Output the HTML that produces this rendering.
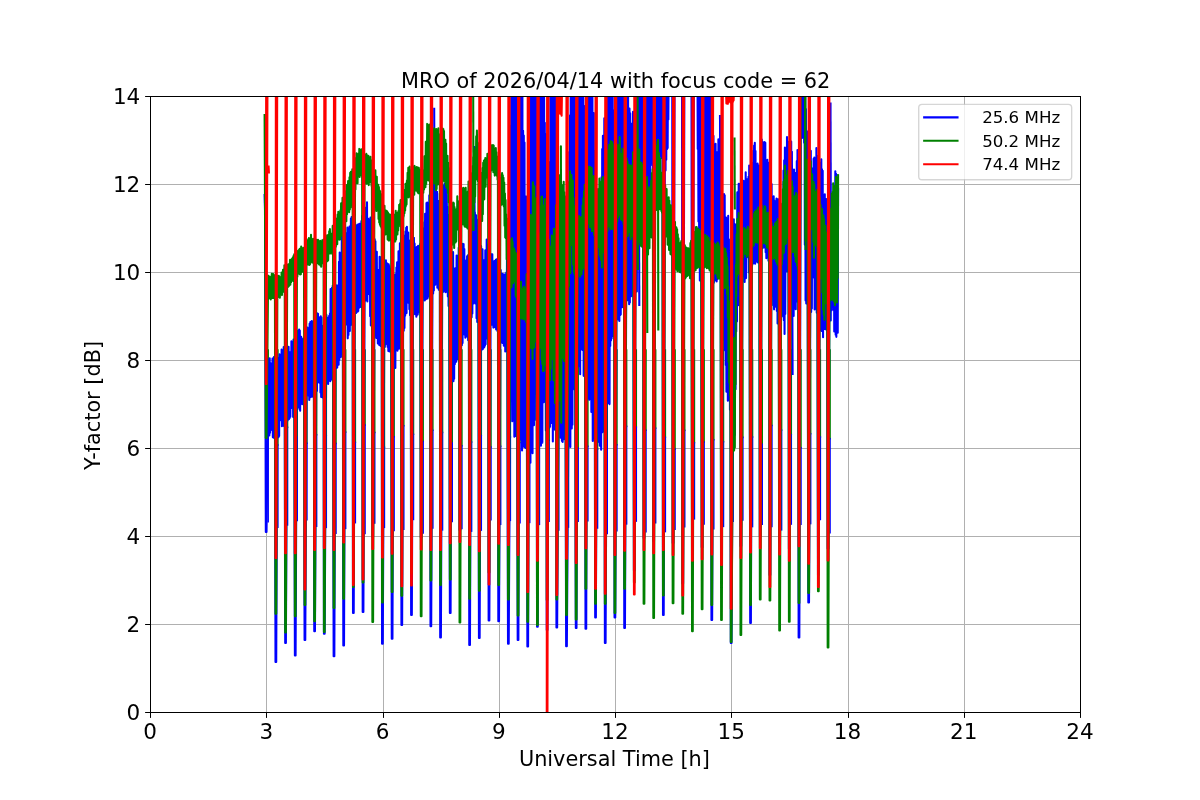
<!DOCTYPE html>
<html><head><meta charset="utf-8"><title>MRO Y-factor</title>
<style>html,body{margin:0;padding:0;background:#fff;}
#fig{position:relative;width:1200px;height:800px;overflow:hidden;background:#fff;}
svg.l{position:absolute;left:0;top:0;display:block;}
text{font-family:"DejaVu Sans","Liberation Sans",sans-serif;}</style></head>
<body><div id="fig">
<svg class="l" width="1200" height="800" viewBox="0 0 1200 800"><rect x="266" y="96" width="1" height="617" fill="#b0b0b0"/><rect x="383" y="96" width="1" height="617" fill="#b0b0b0"/><rect x="499" y="96" width="1" height="617" fill="#b0b0b0"/><rect x="615" y="96" width="1" height="617" fill="#b0b0b0"/><rect x="731" y="96" width="1" height="617" fill="#b0b0b0"/><rect x="848" y="96" width="1" height="617" fill="#b0b0b0"/><rect x="964" y="96" width="1" height="617" fill="#b0b0b0"/><rect x="150" y="624" width="931" height="1" fill="#b0b0b0"/><rect x="150" y="536" width="931" height="1" fill="#b0b0b0"/><rect x="150" y="448" width="931" height="1" fill="#b0b0b0"/><rect x="150" y="360" width="931" height="1" fill="#b0b0b0"/><rect x="150" y="272" width="931" height="1" fill="#b0b0b0"/><rect x="150" y="184" width="931" height="1" fill="#b0b0b0"/></svg>
<svg class="l" width="1200" height="800" viewBox="0 0 864 576" version="1.1">
 
 <defs>
  <style type="text/css">*{stroke-linejoin: round; stroke-linecap: butt}</style>
 </defs>
 <g id="figure_1">
  <g id="patch_1">
   <path d="M 0 576 
L 864 576 
L 864 0 
L 0 0 
L 0 576 
z
" style="fill: none; opacity: 0"/>
  </g>
  <g id="axes_1">
   <g id="patch_2">
    <path d="M 108 512.64 
L 777.6 512.64 
L 777.6 69.12 
L 108 69.12 
L 108 512.64 
z
" style="fill: none; opacity: 0"/>
   </g>
   <g id="matplotlib.axis_1">
    <g id="xtick_1">
     <g id="line2d_1"/>
     <g id="text_1">
      <text style="font-size: 15.5px; font-family: 'DejaVu Sans', 'Bitstream Vera Sans', 'Computer Modern Sans Serif', 'Lucida Grande', 'Verdana', 'Geneva', 'Lucid', 'Arial', 'Helvetica', 'Avant Garde', sans-serif; text-anchor: middle" x="108" y="532.137578" transform="rotate(-0 108 532.14)">0</text>
     </g>
    </g>
    <g id="xtick_2">
     <g id="line2d_2"/>
     <g id="text_2">
      <text style="font-size: 15.5px; font-family: 'DejaVu Sans', 'Bitstream Vera Sans', 'Computer Modern Sans Serif', 'Lucida Grande', 'Verdana', 'Geneva', 'Lucid', 'Arial', 'Helvetica', 'Avant Garde', sans-serif; text-anchor: middle" x="191.7" y="532.137578" transform="rotate(-0 191.7 532.14)">3</text>
     </g>
    </g>
    <g id="xtick_3">
     <g id="line2d_3"/>
     <g id="text_3">
      <text style="font-size: 15.5px; font-family: 'DejaVu Sans', 'Bitstream Vera Sans', 'Computer Modern Sans Serif', 'Lucida Grande', 'Verdana', 'Geneva', 'Lucid', 'Arial', 'Helvetica', 'Avant Garde', sans-serif; text-anchor: middle" x="275.4" y="532.137578" transform="rotate(-0 275.4 532.14)">6</text>
     </g>
    </g>
    <g id="xtick_4">
     <g id="line2d_4"/>
     <g id="text_4">
      <text style="font-size: 15.5px; font-family: 'DejaVu Sans', 'Bitstream Vera Sans', 'Computer Modern Sans Serif', 'Lucida Grande', 'Verdana', 'Geneva', 'Lucid', 'Arial', 'Helvetica', 'Avant Garde', sans-serif; text-anchor: middle" x="359.1" y="532.137578" transform="rotate(-0 359.1 532.14)">9</text>
     </g>
    </g>
    <g id="xtick_5">
     <g id="line2d_5"/>
     <g id="text_5">
      <text style="font-size: 15.5px; font-family: 'DejaVu Sans', 'Bitstream Vera Sans', 'Computer Modern Sans Serif', 'Lucida Grande', 'Verdana', 'Geneva', 'Lucid', 'Arial', 'Helvetica', 'Avant Garde', sans-serif; text-anchor: middle" x="442.8" y="532.137578" transform="rotate(-0 442.8 532.14)">12</text>
     </g>
    </g>
    <g id="xtick_6">
     <g id="line2d_6"/>
     <g id="text_6">
      <text style="font-size: 15.5px; font-family: 'DejaVu Sans', 'Bitstream Vera Sans', 'Computer Modern Sans Serif', 'Lucida Grande', 'Verdana', 'Geneva', 'Lucid', 'Arial', 'Helvetica', 'Avant Garde', sans-serif; text-anchor: middle" x="526.5" y="532.137578" transform="rotate(-0 526.5 532.14)">15</text>
     </g>
    </g>
    <g id="xtick_7">
     <g id="line2d_7"/>
     <g id="text_7">
      <text style="font-size: 15.5px; font-family: 'DejaVu Sans', 'Bitstream Vera Sans', 'Computer Modern Sans Serif', 'Lucida Grande', 'Verdana', 'Geneva', 'Lucid', 'Arial', 'Helvetica', 'Avant Garde', sans-serif; text-anchor: middle" x="610.2" y="532.137578" transform="rotate(-0 610.2 532.14)">18</text>
     </g>
    </g>
    <g id="xtick_8">
     <g id="line2d_8"/>
     <g id="text_8">
      <text style="font-size: 15.5px; font-family: 'DejaVu Sans', 'Bitstream Vera Sans', 'Computer Modern Sans Serif', 'Lucida Grande', 'Verdana', 'Geneva', 'Lucid', 'Arial', 'Helvetica', 'Avant Garde', sans-serif; text-anchor: middle" x="693.9" y="532.137578" transform="rotate(-0 693.9 532.14)">21</text>
     </g>
    </g>
    <g id="xtick_9">
     <g id="line2d_9"/>
     <g id="text_9">
      <text style="font-size: 15.5px; font-family: 'DejaVu Sans', 'Bitstream Vera Sans', 'Computer Modern Sans Serif', 'Lucida Grande', 'Verdana', 'Geneva', 'Lucid', 'Arial', 'Helvetica', 'Avant Garde', sans-serif; text-anchor: middle" x="777.6" y="532.137578" transform="rotate(-0 777.6 532.14)">24</text>
     </g>
    </g>
    <g id="text_10" transform="translate(-0.432 0.000)">
     <text style="font-size: 15px; font-family: 'DejaVu Sans', 'Bitstream Vera Sans', 'Computer Modern Sans Serif', 'Lucida Grande', 'Verdana', 'Geneva', 'Lucid', 'Arial', 'Helvetica', 'Avant Garde', sans-serif; text-anchor: middle" x="442.8" y="551.25875" transform="rotate(-0 442.8 551.26)">Universal Time [h]</text>
    </g>
   </g>
   <g id="matplotlib.axis_2">
    <g id="ytick_1">
     <g id="line2d_10"/>
     <g id="text_11">
      <text style="font-size: 15.5px; font-family: 'DejaVu Sans', 'Bitstream Vera Sans', 'Computer Modern Sans Serif', 'Lucida Grande', 'Verdana', 'Geneva', 'Lucid', 'Arial', 'Helvetica', 'Avant Garde', sans-serif; text-anchor: end" x="101" y="518.528789" transform="rotate(-0 101 518.53)">0</text>
     </g>
    </g>
    <g id="ytick_2">
     <g id="line2d_11"/>
     <g id="text_12">
      <text style="font-size: 15.5px; font-family: 'DejaVu Sans', 'Bitstream Vera Sans', 'Computer Modern Sans Serif', 'Lucida Grande', 'Verdana', 'Geneva', 'Lucid', 'Arial', 'Helvetica', 'Avant Garde', sans-serif; text-anchor: end" x="101" y="455.168789" transform="rotate(-0 101 455.17)">2</text>
     </g>
    </g>
    <g id="ytick_3">
     <g id="line2d_12"/>
     <g id="text_13">
      <text style="font-size: 15.5px; font-family: 'DejaVu Sans', 'Bitstream Vera Sans', 'Computer Modern Sans Serif', 'Lucida Grande', 'Verdana', 'Geneva', 'Lucid', 'Arial', 'Helvetica', 'Avant Garde', sans-serif; text-anchor: end" x="101" y="391.808789" transform="rotate(-0 101 391.81)">4</text>
     </g>
    </g>
    <g id="ytick_4">
     <g id="line2d_13"/>
     <g id="text_14">
      <text style="font-size: 15.5px; font-family: 'DejaVu Sans', 'Bitstream Vera Sans', 'Computer Modern Sans Serif', 'Lucida Grande', 'Verdana', 'Geneva', 'Lucid', 'Arial', 'Helvetica', 'Avant Garde', sans-serif; text-anchor: end" x="101" y="328.448789" transform="rotate(-0 101 328.45)">6</text>
     </g>
    </g>
    <g id="ytick_5">
     <g id="line2d_14"/>
     <g id="text_15">
      <text style="font-size: 15.5px; font-family: 'DejaVu Sans', 'Bitstream Vera Sans', 'Computer Modern Sans Serif', 'Lucida Grande', 'Verdana', 'Geneva', 'Lucid', 'Arial', 'Helvetica', 'Avant Garde', sans-serif; text-anchor: end" x="101" y="265.088789" transform="rotate(-0 101 265.09)">8</text>
     </g>
    </g>
    <g id="ytick_6">
     <g id="line2d_15"/>
     <g id="text_16">
      <text style="font-size: 15.5px; font-family: 'DejaVu Sans', 'Bitstream Vera Sans', 'Computer Modern Sans Serif', 'Lucida Grande', 'Verdana', 'Geneva', 'Lucid', 'Arial', 'Helvetica', 'Avant Garde', sans-serif; text-anchor: end" x="101" y="201.728789" transform="rotate(-0 101 201.73)">10</text>
     </g>
    </g>
    <g id="ytick_7">
     <g id="line2d_16"/>
     <g id="text_17">
      <text style="font-size: 15.5px; font-family: 'DejaVu Sans', 'Bitstream Vera Sans', 'Computer Modern Sans Serif', 'Lucida Grande', 'Verdana', 'Geneva', 'Lucid', 'Arial', 'Helvetica', 'Avant Garde', sans-serif; text-anchor: end" x="101" y="138.368789" transform="rotate(-0 101 138.37)">12</text>
     </g>
    </g>
    <g id="ytick_8">
     <g id="line2d_17"/>
     <g id="text_18">
      <text style="font-size: 15.5px; font-family: 'DejaVu Sans', 'Bitstream Vera Sans', 'Computer Modern Sans Serif', 'Lucida Grande', 'Verdana', 'Geneva', 'Lucid', 'Arial', 'Helvetica', 'Avant Garde', sans-serif; text-anchor: end" x="101" y="75.008789" transform="rotate(-0 101 75.01)">14</text>
     </g>
    </g>
    <g id="text_19" transform="translate(0.504 1.080)">
     <text style="font-size: 15px; font-family: 'DejaVu Sans', 'Bitstream Vera Sans', 'Computer Modern Sans Serif', 'Lucida Grande', 'Verdana', 'Geneva', 'Lucid', 'Arial', 'Helvetica', 'Avant Garde', sans-serif; text-anchor: middle" x="71.756719" y="290.88" transform="rotate(-90 71.76 290.88)">Y-factor [dB]</text>
    </g>
   </g>
   <g id="line2d_18">
    <path d="M 193.08 252 
L 193.08 307.54 
" clip-path="url(#pb26753ab78)" style="fill: none; stroke: #008000; stroke-width: 1.1; stroke-linecap: square"/>
   </g>
   <g id="line2d_19">
    <path d="M 193.08 307.54 
L 193.08 375.69 
" clip-path="url(#pb26753ab78)" style="fill: none; stroke: #0000ff; stroke-width: 1.1; stroke-linecap: square"/>
   </g>
   <g id="line2d_20">
    <path d="M 200.06 252 
L 200.06 320.42 
" clip-path="url(#pb26753ab78)" style="fill: none; stroke: #008000; stroke-width: 1.1; stroke-linecap: square"/>
   </g>
   <g id="line2d_21">
    <path d="M 200.06 320.42 
L 200.06 379.67 
" clip-path="url(#pb26753ab78)" style="fill: none; stroke: #0000ff; stroke-width: 1.1; stroke-linecap: square"/>
   </g>
   <g id="line2d_22">
    <path d="M 207.03 252 
L 207.03 307.69 
" clip-path="url(#pb26753ab78)" style="fill: none; stroke: #008000; stroke-width: 1.1; stroke-linecap: square"/>
   </g>
   <g id="line2d_23">
    <path d="M 207.03 307.69 
L 207.03 377.95 
" clip-path="url(#pb26753ab78)" style="fill: none; stroke: #0000ff; stroke-width: 1.1; stroke-linecap: square"/>
   </g>
   <g id="line2d_24">
    <path d="M 214.01 252 
L 214.01 314.62 
" clip-path="url(#pb26753ab78)" style="fill: none; stroke: #008000; stroke-width: 1.1; stroke-linecap: square"/>
   </g>
   <g id="line2d_25">
    <path d="M 214.01 314.62 
L 214.01 374.80 
" clip-path="url(#pb26753ab78)" style="fill: none; stroke: #0000ff; stroke-width: 1.1; stroke-linecap: square"/>
   </g>
   <g id="line2d_26">
    <path d="M 220.98 252 
L 220.98 319.22 
" clip-path="url(#pb26753ab78)" style="fill: none; stroke: #008000; stroke-width: 1.1; stroke-linecap: square"/>
   </g>
   <g id="line2d_27">
    <path d="M 220.98 319.22 
L 220.98 374.27 
" clip-path="url(#pb26753ab78)" style="fill: none; stroke: #0000ff; stroke-width: 1.1; stroke-linecap: square"/>
   </g>
   <g id="line2d_28">
    <path d="M 227.96 252 
L 227.96 313.04 
" clip-path="url(#pb26753ab78)" style="fill: none; stroke: #008000; stroke-width: 1.1; stroke-linecap: square"/>
   </g>
   <g id="line2d_29">
    <path d="M 227.96 313.04 
L 227.96 378.91 
" clip-path="url(#pb26753ab78)" style="fill: none; stroke: #0000ff; stroke-width: 1.1; stroke-linecap: square"/>
   </g>
   <g id="line2d_30">
    <path d="M 234.93 252 
L 234.93 313.75 
" clip-path="url(#pb26753ab78)" style="fill: none; stroke: #008000; stroke-width: 1.1; stroke-linecap: square"/>
   </g>
   <g id="line2d_31">
    <path d="M 234.93 313.75 
L 234.93 379.72 
" clip-path="url(#pb26753ab78)" style="fill: none; stroke: #0000ff; stroke-width: 1.1; stroke-linecap: square"/>
   </g>
   <g id="line2d_32">
    <path d="M 241.91 252 
L 241.91 319.28 
" clip-path="url(#pb26753ab78)" style="fill: none; stroke: #008000; stroke-width: 1.1; stroke-linecap: square"/>
   </g>
   <g id="line2d_33">
    <path d="M 241.91 319.28 
L 241.91 383.98 
" clip-path="url(#pb26753ab78)" style="fill: none; stroke: #0000ff; stroke-width: 1.1; stroke-linecap: square"/>
   </g>
   <g id="line2d_34">
    <path d="M 248.88 252 
L 248.88 311.12 
" clip-path="url(#pb26753ab78)" style="fill: none; stroke: #008000; stroke-width: 1.1; stroke-linecap: square"/>
   </g>
   <g id="line2d_35">
    <path d="M 248.88 311.12 
L 248.88 380.43 
" clip-path="url(#pb26753ab78)" style="fill: none; stroke: #0000ff; stroke-width: 1.1; stroke-linecap: square"/>
   </g>
   <g id="line2d_36">
    <path d="M 255.86 252 
L 255.86 318.53 
" clip-path="url(#pb26753ab78)" style="fill: none; stroke: #008000; stroke-width: 1.1; stroke-linecap: square"/>
   </g>
   <g id="line2d_37">
    <path d="M 255.86 318.53 
L 255.86 376.33 
" clip-path="url(#pb26753ab78)" style="fill: none; stroke: #0000ff; stroke-width: 1.1; stroke-linecap: square"/>
   </g>
   <g id="line2d_38">
    <path d="M 262.83 252 
L 262.83 306.03 
" clip-path="url(#pb26753ab78)" style="fill: none; stroke: #008000; stroke-width: 1.1; stroke-linecap: square"/>
   </g>
   <g id="line2d_39">
    <path d="M 262.83 306.03 
L 262.83 384.17 
" clip-path="url(#pb26753ab78)" style="fill: none; stroke: #0000ff; stroke-width: 1.1; stroke-linecap: square"/>
   </g>
   <g id="line2d_40">
    <path d="M 269.81 252 
L 269.81 311.37 
" clip-path="url(#pb26753ab78)" style="fill: none; stroke: #008000; stroke-width: 1.1; stroke-linecap: square"/>
   </g>
   <g id="line2d_41">
    <path d="M 269.81 311.37 
L 269.81 376.58 
" clip-path="url(#pb26753ab78)" style="fill: none; stroke: #0000ff; stroke-width: 1.1; stroke-linecap: square"/>
   </g>
   <g id="line2d_42">
    <path d="M 276.78 252 
L 276.78 322.05 
" clip-path="url(#pb26753ab78)" style="fill: none; stroke: #008000; stroke-width: 1.1; stroke-linecap: square"/>
   </g>
   <g id="line2d_43">
    <path d="M 276.78 322.05 
L 276.78 379.70 
" clip-path="url(#pb26753ab78)" style="fill: none; stroke: #0000ff; stroke-width: 1.1; stroke-linecap: square"/>
   </g>
   <g id="line2d_44">
    <path d="M 283.76 252 
L 283.76 314.48 
" clip-path="url(#pb26753ab78)" style="fill: none; stroke: #008000; stroke-width: 1.1; stroke-linecap: square"/>
   </g>
   <g id="line2d_45">
    <path d="M 283.76 314.48 
L 283.76 381.87 
" clip-path="url(#pb26753ab78)" style="fill: none; stroke: #0000ff; stroke-width: 1.1; stroke-linecap: square"/>
   </g>
   <g id="line2d_46">
    <path d="M 290.73 252 
L 290.73 306.55 
" clip-path="url(#pb26753ab78)" style="fill: none; stroke: #008000; stroke-width: 1.1; stroke-linecap: square"/>
   </g>
   <g id="line2d_47">
    <path d="M 290.73 306.55 
L 290.73 381.10 
" clip-path="url(#pb26753ab78)" style="fill: none; stroke: #0000ff; stroke-width: 1.1; stroke-linecap: square"/>
   </g>
   <g id="line2d_48">
    <path d="M 297.71 252 
L 297.71 312.74 
" clip-path="url(#pb26753ab78)" style="fill: none; stroke: #008000; stroke-width: 1.1; stroke-linecap: square"/>
   </g>
   <g id="line2d_49">
    <path d="M 297.71 312.74 
L 297.71 374.01 
" clip-path="url(#pb26753ab78)" style="fill: none; stroke: #0000ff; stroke-width: 1.1; stroke-linecap: square"/>
   </g>
   <g id="line2d_50">
    <path d="M 304.68 252 
L 304.68 317.89 
" clip-path="url(#pb26753ab78)" style="fill: none; stroke: #008000; stroke-width: 1.1; stroke-linecap: square"/>
   </g>
   <g id="line2d_51">
    <path d="M 304.68 317.89 
L 304.68 383.69 
" clip-path="url(#pb26753ab78)" style="fill: none; stroke: #0000ff; stroke-width: 1.1; stroke-linecap: square"/>
   </g>
   <g id="line2d_52">
    <path d="M 311.66 252 
L 311.66 309.73 
" clip-path="url(#pb26753ab78)" style="fill: none; stroke: #008000; stroke-width: 1.1; stroke-linecap: square"/>
   </g>
   <g id="line2d_53">
    <path d="M 311.66 309.73 
L 311.66 380.22 
" clip-path="url(#pb26753ab78)" style="fill: none; stroke: #0000ff; stroke-width: 1.1; stroke-linecap: square"/>
   </g>
   <g id="line2d_54">
    <path d="M 318.63 252 
L 318.63 311.37 
" clip-path="url(#pb26753ab78)" style="fill: none; stroke: #008000; stroke-width: 1.1; stroke-linecap: square"/>
   </g>
   <g id="line2d_55">
    <path d="M 318.63 311.37 
L 318.63 381.51 
" clip-path="url(#pb26753ab78)" style="fill: none; stroke: #0000ff; stroke-width: 1.1; stroke-linecap: square"/>
   </g>
   <g id="line2d_56">
    <path d="M 325.61 252 
L 325.61 319.00 
" clip-path="url(#pb26753ab78)" style="fill: none; stroke: #008000; stroke-width: 1.1; stroke-linecap: square"/>
   </g>
   <g id="line2d_57">
    <path d="M 325.61 319.00 
L 325.61 375.48 
" clip-path="url(#pb26753ab78)" style="fill: none; stroke: #0000ff; stroke-width: 1.1; stroke-linecap: square"/>
   </g>
   <g id="line2d_58">
    <path d="M 332.58 252 
L 332.58 320.94 
" clip-path="url(#pb26753ab78)" style="fill: none; stroke: #008000; stroke-width: 1.1; stroke-linecap: square"/>
   </g>
   <g id="line2d_59">
    <path d="M 332.58 320.94 
L 332.58 380.54 
" clip-path="url(#pb26753ab78)" style="fill: none; stroke: #0000ff; stroke-width: 1.1; stroke-linecap: square"/>
   </g>
   <g id="line2d_60">
    <path d="M 339.56 252 
L 339.56 318.29 
" clip-path="url(#pb26753ab78)" style="fill: none; stroke: #008000; stroke-width: 1.1; stroke-linecap: square"/>
   </g>
   <g id="line2d_61">
    <path d="M 339.56 318.29 
L 339.56 382.41 
" clip-path="url(#pb26753ab78)" style="fill: none; stroke: #0000ff; stroke-width: 1.1; stroke-linecap: square"/>
   </g>
   <g id="line2d_62">
    <path d="M 346.53 252 
L 346.53 313.71 
" clip-path="url(#pb26753ab78)" style="fill: none; stroke: #008000; stroke-width: 1.1; stroke-linecap: square"/>
   </g>
   <g id="line2d_63">
    <path d="M 346.53 313.71 
L 346.53 381.70 
" clip-path="url(#pb26753ab78)" style="fill: none; stroke: #0000ff; stroke-width: 1.1; stroke-linecap: square"/>
   </g>
   <g id="line2d_64">
    <path d="M 353.51 252 
L 353.51 321.81 
" clip-path="url(#pb26753ab78)" style="fill: none; stroke: #008000; stroke-width: 1.1; stroke-linecap: square"/>
   </g>
   <g id="line2d_65">
    <path d="M 353.51 321.81 
L 353.51 374.14 
" clip-path="url(#pb26753ab78)" style="fill: none; stroke: #0000ff; stroke-width: 1.1; stroke-linecap: square"/>
   </g>
   <g id="line2d_66">
    <path d="M 360.48 252 
L 360.48 321.30 
" clip-path="url(#pb26753ab78)" style="fill: none; stroke: #008000; stroke-width: 1.1; stroke-linecap: square"/>
   </g>
   <g id="line2d_67">
    <path d="M 360.48 321.30 
L 360.48 377.50 
" clip-path="url(#pb26753ab78)" style="fill: none; stroke: #0000ff; stroke-width: 1.1; stroke-linecap: square"/>
   </g>
   <g id="line2d_68">
    <path d="M 367.46 252 
L 367.46 314.63 
" clip-path="url(#pb26753ab78)" style="fill: none; stroke: #008000; stroke-width: 1.1; stroke-linecap: square"/>
   </g>
   <g id="line2d_69">
    <path d="M 367.46 314.63 
L 367.46 374.65 
" clip-path="url(#pb26753ab78)" style="fill: none; stroke: #0000ff; stroke-width: 1.1; stroke-linecap: square"/>
   </g>
   <g id="line2d_70">
    <path d="M 374.43 252 
L 374.43 318.57 
" clip-path="url(#pb26753ab78)" style="fill: none; stroke: #008000; stroke-width: 1.1; stroke-linecap: square"/>
   </g>
   <g id="line2d_71">
    <path d="M 374.43 318.57 
L 374.43 376.32 
" clip-path="url(#pb26753ab78)" style="fill: none; stroke: #0000ff; stroke-width: 1.1; stroke-linecap: square"/>
   </g>
   <g id="line2d_72">
    <path d="M 381.41 252 
L 381.41 321.68 
" clip-path="url(#pb26753ab78)" style="fill: none; stroke: #008000; stroke-width: 1.1; stroke-linecap: square"/>
   </g>
   <g id="line2d_73">
    <path d="M 381.41 321.68 
L 381.41 376.13 
" clip-path="url(#pb26753ab78)" style="fill: none; stroke: #0000ff; stroke-width: 1.1; stroke-linecap: square"/>
   </g>
   <g id="line2d_74">
    <path d="M 388.38 252 
L 388.38 316.11 
" clip-path="url(#pb26753ab78)" style="fill: none; stroke: #008000; stroke-width: 1.1; stroke-linecap: square"/>
   </g>
   <g id="line2d_75">
    <path d="M 388.38 316.11 
L 388.38 377.56 
" clip-path="url(#pb26753ab78)" style="fill: none; stroke: #0000ff; stroke-width: 1.1; stroke-linecap: square"/>
   </g>
   <g id="line2d_76">
    <path d="M 395.36 252 
L 395.36 317.03 
" clip-path="url(#pb26753ab78)" style="fill: none; stroke: #008000; stroke-width: 1.1; stroke-linecap: square"/>
   </g>
   <g id="line2d_77">
    <path d="M 395.36 317.03 
L 395.36 375.23 
" clip-path="url(#pb26753ab78)" style="fill: none; stroke: #0000ff; stroke-width: 1.1; stroke-linecap: square"/>
   </g>
   <g id="line2d_78">
    <path d="M 402.33 252 
L 402.33 309.25 
" clip-path="url(#pb26753ab78)" style="fill: none; stroke: #008000; stroke-width: 1.1; stroke-linecap: square"/>
   </g>
   <g id="line2d_79">
    <path d="M 402.33 309.25 
L 402.33 381.56 
" clip-path="url(#pb26753ab78)" style="fill: none; stroke: #0000ff; stroke-width: 1.1; stroke-linecap: square"/>
   </g>
   <g id="line2d_80">
    <path d="M 409.31 252 
L 409.31 319.54 
" clip-path="url(#pb26753ab78)" style="fill: none; stroke: #008000; stroke-width: 1.1; stroke-linecap: square"/>
   </g>
   <g id="line2d_81">
    <path d="M 409.31 319.54 
L 409.31 379.49 
" clip-path="url(#pb26753ab78)" style="fill: none; stroke: #0000ff; stroke-width: 1.1; stroke-linecap: square"/>
   </g>
   <g id="line2d_82">
    <path d="M 416.28 252 
L 416.28 322.58 
" clip-path="url(#pb26753ab78)" style="fill: none; stroke: #008000; stroke-width: 1.1; stroke-linecap: square"/>
   </g>
   <g id="line2d_83">
    <path d="M 416.28 322.58 
L 416.28 375.33 
" clip-path="url(#pb26753ab78)" style="fill: none; stroke: #0000ff; stroke-width: 1.1; stroke-linecap: square"/>
   </g>
   <g id="line2d_84">
    <path d="M 423.26 252 
L 423.26 321.32 
" clip-path="url(#pb26753ab78)" style="fill: none; stroke: #008000; stroke-width: 1.1; stroke-linecap: square"/>
   </g>
   <g id="line2d_85">
    <path d="M 423.26 321.32 
L 423.26 374.91 
" clip-path="url(#pb26753ab78)" style="fill: none; stroke: #0000ff; stroke-width: 1.1; stroke-linecap: square"/>
   </g>
   <g id="line2d_86">
    <path d="M 430.23 252 
L 430.23 323.36 
" clip-path="url(#pb26753ab78)" style="fill: none; stroke: #008000; stroke-width: 1.1; stroke-linecap: square"/>
   </g>
   <g id="line2d_87">
    <path d="M 430.23 323.36 
L 430.23 380.14 
" clip-path="url(#pb26753ab78)" style="fill: none; stroke: #0000ff; stroke-width: 1.1; stroke-linecap: square"/>
   </g>
   <g id="line2d_88">
    <path d="M 437.21 252 
L 437.21 316.92 
" clip-path="url(#pb26753ab78)" style="fill: none; stroke: #008000; stroke-width: 1.1; stroke-linecap: square"/>
   </g>
   <g id="line2d_89">
    <path d="M 437.21 316.92 
L 437.21 384.14 
" clip-path="url(#pb26753ab78)" style="fill: none; stroke: #0000ff; stroke-width: 1.1; stroke-linecap: square"/>
   </g>
   <g id="line2d_90">
    <path d="M 444.18 252 
L 444.18 320.17 
" clip-path="url(#pb26753ab78)" style="fill: none; stroke: #008000; stroke-width: 1.1; stroke-linecap: square"/>
   </g>
   <g id="line2d_91">
    <path d="M 444.18 320.17 
L 444.18 382.06 
" clip-path="url(#pb26753ab78)" style="fill: none; stroke: #0000ff; stroke-width: 1.1; stroke-linecap: square"/>
   </g>
   <g id="line2d_92">
    <path d="M 451.16 252 
L 451.16 306.97 
" clip-path="url(#pb26753ab78)" style="fill: none; stroke: #008000; stroke-width: 1.1; stroke-linecap: square"/>
   </g>
   <g id="line2d_93">
    <path d="M 451.16 306.97 
L 451.16 377.21 
" clip-path="url(#pb26753ab78)" style="fill: none; stroke: #0000ff; stroke-width: 1.1; stroke-linecap: square"/>
   </g>
   <g id="line2d_94">
    <path d="M 458.13 252 
L 458.13 307.53 
" clip-path="url(#pb26753ab78)" style="fill: none; stroke: #008000; stroke-width: 1.1; stroke-linecap: square"/>
   </g>
   <g id="line2d_95">
    <path d="M 458.13 307.53 
L 458.13 375.19 
" clip-path="url(#pb26753ab78)" style="fill: none; stroke: #0000ff; stroke-width: 1.1; stroke-linecap: square"/>
   </g>
   <g id="line2d_96">
    <path d="M 465.11 252 
L 465.11 309.85 
" clip-path="url(#pb26753ab78)" style="fill: none; stroke: #008000; stroke-width: 1.1; stroke-linecap: square"/>
   </g>
   <g id="line2d_97">
    <path d="M 465.11 309.85 
L 465.11 382.85 
" clip-path="url(#pb26753ab78)" style="fill: none; stroke: #0000ff; stroke-width: 1.1; stroke-linecap: square"/>
   </g>
   <g id="line2d_98">
    <path d="M 472.08 252 
L 472.08 308.28 
" clip-path="url(#pb26753ab78)" style="fill: none; stroke: #008000; stroke-width: 1.1; stroke-linecap: square"/>
   </g>
   <g id="line2d_99">
    <path d="M 472.08 308.28 
L 472.08 376.38 
" clip-path="url(#pb26753ab78)" style="fill: none; stroke: #0000ff; stroke-width: 1.1; stroke-linecap: square"/>
   </g>
   <g id="line2d_100">
    <path d="M 479.06 252 
L 479.06 314.87 
" clip-path="url(#pb26753ab78)" style="fill: none; stroke: #008000; stroke-width: 1.1; stroke-linecap: square"/>
   </g>
   <g id="line2d_101">
    <path d="M 479.06 314.87 
L 479.06 382.75 
" clip-path="url(#pb26753ab78)" style="fill: none; stroke: #0000ff; stroke-width: 1.1; stroke-linecap: square"/>
   </g>
   <g id="line2d_102">
    <path d="M 486.03 252 
L 486.03 323.37 
" clip-path="url(#pb26753ab78)" style="fill: none; stroke: #008000; stroke-width: 1.1; stroke-linecap: square"/>
   </g>
   <g id="line2d_103">
    <path d="M 486.03 323.37 
L 486.03 381.12 
" clip-path="url(#pb26753ab78)" style="fill: none; stroke: #0000ff; stroke-width: 1.1; stroke-linecap: square"/>
   </g>
   <g id="line2d_104">
    <path d="M 493.01 252 
L 493.01 309.85 
" clip-path="url(#pb26753ab78)" style="fill: none; stroke: #008000; stroke-width: 1.1; stroke-linecap: square"/>
   </g>
   <g id="line2d_105">
    <path d="M 493.01 309.85 
L 493.01 379.24 
" clip-path="url(#pb26753ab78)" style="fill: none; stroke: #0000ff; stroke-width: 1.1; stroke-linecap: square"/>
   </g>
   <g id="line2d_106">
    <path d="M 499.98 252 
L 499.98 318.71 
" clip-path="url(#pb26753ab78)" style="fill: none; stroke: #008000; stroke-width: 1.1; stroke-linecap: square"/>
   </g>
   <g id="line2d_107">
    <path d="M 499.98 318.71 
L 499.98 373.56 
" clip-path="url(#pb26753ab78)" style="fill: none; stroke: #0000ff; stroke-width: 1.1; stroke-linecap: square"/>
   </g>
   <g id="line2d_108">
    <path d="M 506.96 252 
L 506.96 318.24 
" clip-path="url(#pb26753ab78)" style="fill: none; stroke: #008000; stroke-width: 1.1; stroke-linecap: square"/>
   </g>
   <g id="line2d_109">
    <path d="M 506.96 318.24 
L 506.96 377.20 
" clip-path="url(#pb26753ab78)" style="fill: none; stroke: #0000ff; stroke-width: 1.1; stroke-linecap: square"/>
   </g>
   <g id="line2d_110">
    <path d="M 513.93 252 
L 513.93 316.61 
" clip-path="url(#pb26753ab78)" style="fill: none; stroke: #008000; stroke-width: 1.1; stroke-linecap: square"/>
   </g>
   <g id="line2d_111">
    <path d="M 513.93 316.61 
L 513.93 380.67 
" clip-path="url(#pb26753ab78)" style="fill: none; stroke: #0000ff; stroke-width: 1.1; stroke-linecap: square"/>
   </g>
   <g id="line2d_112">
    <path d="M 520.91 252 
L 520.91 318.04 
" clip-path="url(#pb26753ab78)" style="fill: none; stroke: #008000; stroke-width: 1.1; stroke-linecap: square"/>
   </g>
   <g id="line2d_113">
    <path d="M 520.91 318.04 
L 520.91 378.99 
" clip-path="url(#pb26753ab78)" style="fill: none; stroke: #0000ff; stroke-width: 1.1; stroke-linecap: square"/>
   </g>
   <g id="line2d_114">
    <path d="M 527.88 252 
L 527.88 315.99 
" clip-path="url(#pb26753ab78)" style="fill: none; stroke: #008000; stroke-width: 1.1; stroke-linecap: square"/>
   </g>
   <g id="line2d_115">
    <path d="M 527.88 315.99 
L 527.88 375.24 
" clip-path="url(#pb26753ab78)" style="fill: none; stroke: #0000ff; stroke-width: 1.1; stroke-linecap: square"/>
   </g>
   <g id="line2d_116">
    <path d="M 534.86 252 
L 534.86 314.91 
" clip-path="url(#pb26753ab78)" style="fill: none; stroke: #008000; stroke-width: 1.1; stroke-linecap: square"/>
   </g>
   <g id="line2d_117">
    <path d="M 534.86 314.91 
L 534.86 374.40 
" clip-path="url(#pb26753ab78)" style="fill: none; stroke: #0000ff; stroke-width: 1.1; stroke-linecap: square"/>
   </g>
   <g id="line2d_118">
    <path d="M 541.83 252 
L 541.83 314.65 
" clip-path="url(#pb26753ab78)" style="fill: none; stroke: #008000; stroke-width: 1.1; stroke-linecap: square"/>
   </g>
   <g id="line2d_119">
    <path d="M 541.83 314.65 
L 541.83 379.14 
" clip-path="url(#pb26753ab78)" style="fill: none; stroke: #0000ff; stroke-width: 1.1; stroke-linecap: square"/>
   </g>
   <g id="line2d_120">
    <path d="M 548.81 252 
L 548.81 319.93 
" clip-path="url(#pb26753ab78)" style="fill: none; stroke: #008000; stroke-width: 1.1; stroke-linecap: square"/>
   </g>
   <g id="line2d_121">
    <path d="M 548.81 319.93 
L 548.81 377.50 
" clip-path="url(#pb26753ab78)" style="fill: none; stroke: #0000ff; stroke-width: 1.1; stroke-linecap: square"/>
   </g>
   <g id="line2d_122">
    <path d="M 555.78 252 
L 555.78 306.35 
" clip-path="url(#pb26753ab78)" style="fill: none; stroke: #008000; stroke-width: 1.1; stroke-linecap: square"/>
   </g>
   <g id="line2d_123">
    <path d="M 555.78 306.35 
L 555.78 379.04 
" clip-path="url(#pb26753ab78)" style="fill: none; stroke: #0000ff; stroke-width: 1.1; stroke-linecap: square"/>
   </g>
   <g id="line2d_124">
    <path d="M 562.76 252 
L 562.76 309.69 
" clip-path="url(#pb26753ab78)" style="fill: none; stroke: #008000; stroke-width: 1.1; stroke-linecap: square"/>
   </g>
   <g id="line2d_125">
    <path d="M 562.76 309.69 
L 562.76 381.50 
" clip-path="url(#pb26753ab78)" style="fill: none; stroke: #0000ff; stroke-width: 1.1; stroke-linecap: square"/>
   </g>
   <g id="line2d_126">
    <path d="M 569.73 252 
L 569.73 313.00 
" clip-path="url(#pb26753ab78)" style="fill: none; stroke: #008000; stroke-width: 1.1; stroke-linecap: square"/>
   </g>
   <g id="line2d_127">
    <path d="M 569.73 313.00 
L 569.73 377.34 
" clip-path="url(#pb26753ab78)" style="fill: none; stroke: #0000ff; stroke-width: 1.1; stroke-linecap: square"/>
   </g>
   <g id="line2d_128">
    <path d="M 576.71 252 
L 576.71 322.37 
" clip-path="url(#pb26753ab78)" style="fill: none; stroke: #008000; stroke-width: 1.1; stroke-linecap: square"/>
   </g>
   <g id="line2d_129">
    <path d="M 576.71 322.37 
L 576.71 377.49 
" clip-path="url(#pb26753ab78)" style="fill: none; stroke: #0000ff; stroke-width: 1.1; stroke-linecap: square"/>
   </g>
   <g id="line2d_130">
    <path d="M 583.68 252 
L 583.68 312.28 
" clip-path="url(#pb26753ab78)" style="fill: none; stroke: #008000; stroke-width: 1.1; stroke-linecap: square"/>
   </g>
   <g id="line2d_131">
    <path d="M 583.68 312.28 
L 583.68 376.97 
" clip-path="url(#pb26753ab78)" style="fill: none; stroke: #0000ff; stroke-width: 1.1; stroke-linecap: square"/>
   </g>
   <g id="line2d_132">
    <path d="M 590.66 252 
L 590.66 314.65 
" clip-path="url(#pb26753ab78)" style="fill: none; stroke: #008000; stroke-width: 1.1; stroke-linecap: square"/>
   </g>
   <g id="line2d_133">
    <path d="M 590.66 314.65 
L 590.66 374.03 
" clip-path="url(#pb26753ab78)" style="fill: none; stroke: #0000ff; stroke-width: 1.1; stroke-linecap: square"/>
   </g>
   <g id="line2d_134">
    <path d="M 597.63 252 
L 597.63 315.84 
" clip-path="url(#pb26753ab78)" style="fill: none; stroke: #008000; stroke-width: 1.1; stroke-linecap: square"/>
   </g>
   <g id="line2d_135">
    <path d="M 597.63 315.84 
L 597.63 383.57 
" clip-path="url(#pb26753ab78)" style="fill: none; stroke: #0000ff; stroke-width: 1.1; stroke-linecap: square"/>
   </g>
   <g id="line2d_136">
    <path d="M 191.02 140.4 
L 191.23 151.2 
" clip-path="url(#pb26753ab78)" style="fill: none; stroke: #0000ff; stroke-width: 1.5; stroke-linecap: square"/>
   </g>
   <g id="line2d_137">
    <path d="M 312.62 78.26 
L 312.84 144 
" clip-path="url(#pb26753ab78)" style="fill: none; stroke: #0000ff; stroke-width: 1.5; stroke-linecap: square"/>
   </g>
   <g id="line2d_138">
    <path d="M 341.42 105.84 
L 341.64 158.4 
" clip-path="url(#pb26753ab78)" style="fill: none; stroke: #0000ff; stroke-width: 1.5; stroke-linecap: square"/>
   </g>
   <g id="line2d_139">
    <path d="M 518.4 83.52 
L 518.62 141.12 
" clip-path="url(#pb26753ab78)" style="fill: none; stroke: #0000ff; stroke-width: 1.5; stroke-linecap: square"/>
   </g>
   <g id="line2d_140">
    <path d="M 570.46 216 
L 570.67 269.28 
" clip-path="url(#pb26753ab78)" style="fill: none; stroke: #0000ff; stroke-width: 1.5; stroke-linecap: square"/>
   </g>
   <g id="line2d_141">
    <path d="M 597.96 74.52 
L 598.18 144 
" clip-path="url(#pb26753ab78)" style="fill: none; stroke: #0000ff; stroke-width: 1.5; stroke-linecap: square"/>
   </g>
   <g id="line2d_142">
    <path d="M 460.08 144 
L 460.30 219.6 
" clip-path="url(#pb26753ab78)" style="fill: none; stroke: #0000ff; stroke-width: 1.5; stroke-linecap: square"/>
   </g>
   <g id="line2d_143">
    <path d="M 190.51 140.4 
L 190.8 151.2 
L 191.39 383.04 
L 191.89 383.04 
L 192.92 303.00 
L 193.18 267.72 
L 193.43 311.02 
L 193.68 258.36 
L 193.93 313.55 
L 194.18 258.01 
L 194.44 311.52 
L 194.69 261.43 
L 194.94 309.71 
L 195.19 274.35 
L 195.44 304.18 
L 195.70 263.97 
L 195.95 298.19 
L 196.2 258.17 
L 196.45 314.77 
L 196.70 263.75 
L 196.96 315.18 
L 197.21 257.00 
L 197.46 310.57 
L 197.71 260.54 
L 197.96 300.43 
L 198.37 476.64 
L 198.87 476.64 
L 199.73 264.29 
L 199.98 314.50 
L 200.23 257.73 
L 200.48 314.76 
L 200.74 266.94 
L 200.99 313.83 
L 201.24 255.10 
L 201.49 299.74 
L 201.74 257.79 
L 202.00 300.23 
L 202.25 259.79 
L 202.5 302.74 
L 202.75 251.75 
L 203.00 306.92 
L 203.26 255.60 
L 203.51 297.83 
L 203.76 252.53 
L 204.01 304.36 
L 204.26 249.80 
L 204.52 306.92 
L 204.77 251.21 
L 205.02 307.94 
L 205.34 462.96 
L 205.84 462.96 
L 206.78 255.47 
L 207.04 302.84 
L 207.29 250.59 
L 207.54 301.36 
L 207.79 249.67 
L 208.04 301.90 
L 208.30 262.15 
L 208.55 301.04 
L 208.8 253.73 
L 209.05 300.05 
L 209.30 258.58 
L 209.56 293.98 
L 209.81 245.75 
L 210.06 289.10 
L 210.31 260.04 
L 210.56 287.09 
L 210.82 250.14 
L 211.07 300.19 
L 211.32 244.40 
L 211.57 285.56 
L 211.82 247.91 
L 212.32 471.96 
L 212.82 471.96 
L 213.84 238.13 
L 214.09 284.92 
L 214.34 241.04 
L 214.60 293.23 
L 214.85 238.32 
L 215.1 287.63 
L 215.35 237.19 
L 215.60 294.51 
L 215.86 237.98 
L 216.11 295.70 
L 216.36 254.67 
L 216.61 287.70 
L 216.86 242.57 
L 217.12 289.49 
L 217.37 252.47 
L 217.62 291.06 
L 217.87 246.49 
L 218.12 284.83 
L 218.38 243.79 
L 218.63 287.22 
L 218.88 249.72 
L 219.29 460.8 
L 219.79 460.8 
L 220.64 289.89 
L 220.90 239.63 
L 221.15 279.23 
L 221.4 235.82 
L 221.65 283.21 
L 221.90 245.12 
L 222.16 284.99 
L 222.41 242.44 
L 222.66 287.98 
L 222.91 233.18 
L 223.16 286.11 
L 223.42 231.91 
L 223.67 285.80 
L 223.92 245.69 
L 224.17 281.67 
L 224.42 231.07 
L 224.68 285.57 
L 224.93 243.86 
L 225.18 282.87 
L 225.43 243.86 
L 225.68 281.11 
L 225.94 230.86 
L 226.27 454.5 
L 226.77 454.5 
L 227.7 269.80 
L 227.95 225.29 
L 228.20 281.55 
L 228.46 229.85 
L 228.71 268.46 
L 228.96 225.94 
L 229.21 272.82 
L 229.46 232.95 
L 229.72 275.47 
L 229.97 232.58 
L 230.22 268.29 
L 230.47 228.26 
L 230.72 282.63 
L 230.98 227.80 
L 231.23 285.77 
L 231.48 228.64 
L 231.73 271.63 
L 231.98 240.86 
L 232.24 286.24 
L 232.49 235.00 
L 232.74 281.10 
L 232.99 234.36 
L 233.24 456.3 
L 233.74 456.3 
L 234.76 278.57 
L 235.01 226.72 
L 235.26 275.42 
L 235.51 232.75 
L 235.76 266.27 
L 236.02 228.89 
L 236.27 276.51 
L 236.52 231.29 
L 236.77 264.16 
L 237.02 227.31 
L 237.28 270.06 
L 237.53 225.82 
L 237.78 274.50 
L 238.03 208.12 
L 238.28 273.54 
L 238.54 208.55 
L 238.79 271.34 
L 239.04 207.17 
L 239.29 265.25 
L 239.54 205.69 
L 239.80 263.74 
L 240.22 472.5 
L 240.72 472.5 
L 241.56 215.19 
L 241.81 258.21 
L 242.06 208.81 
L 242.32 264.90 
L 242.57 205.35 
L 242.82 264.57 
L 243.07 207.91 
L 243.32 243.89 
L 243.58 206.14 
L 243.83 262.53 
L 244.08 188.51 
L 244.33 259.21 
L 244.58 181.89 
L 244.84 251.01 
L 245.09 193.08 
L 245.34 257.07 
L 245.59 192.21 
L 245.84 241.83 
L 246.10 170.15 
L 246.35 241.50 
L 246.6 189.32 
L 246.85 254.18 
L 247.19 464.76 
L 247.69 464.76 
L 248.62 182.91 
L 248.87 232.17 
L 249.12 167.89 
L 249.37 233.65 
L 249.62 182.80 
L 249.88 225.52 
L 250.13 163.92 
L 250.38 243.61 
L 250.63 172.33 
L 250.88 241.24 
L 251.14 168.53 
L 251.39 219.43 
L 251.64 163.07 
L 251.89 238.28 
L 252.14 163.40 
L 252.40 228.09 
L 252.65 157.36 
L 252.9 233.79 
L 253.15 156.31 
L 253.40 225.42 
L 253.66 172.57 
L 253.91 231.20 
L 254.17 441.36 
L 254.67 441.36 
L 255.67 160.23 
L 255.92 217.06 
L 256.18 167.78 
L 256.43 225.38 
L 256.68 162.14 
L 256.93 214.64 
L 257.18 162.76 
L 257.44 224.42 
L 257.69 161.75 
L 257.94 223.85 
L 258.19 175.99 
L 258.44 221.82 
L 258.70 161.19 
L 258.95 209.21 
L 259.2 165.74 
L 259.45 220.98 
L 259.70 161.01 
L 259.96 205.87 
L 260.21 159.09 
L 260.46 210.36 
L 260.71 155.50 
L 261.14 440.64 
L 261.64 440.64 
L 262.48 212.41 
L 262.73 161.30 
L 262.98 216.59 
L 263.23 149.62 
L 263.48 210.82 
L 263.74 158.45 
L 263.99 199.32 
L 264.24 145.63 
L 264.49 217.01 
L 264.74 159.62 
L 265.00 211.79 
L 265.25 157.61 
L 265.5 201.14 
L 265.75 167.03 
L 266.00 210.62 
L 266.26 161.02 
L 266.51 227.68 
L 266.76 156.68 
L 267.01 234.28 
L 267.26 161.73 
L 267.52 222.73 
L 267.77 160.83 
L 268.12 386.64 
L 268.62 386.64 
L 269.53 240.51 
L 269.78 172.24 
L 270.04 232.87 
L 270.29 173.65 
L 270.54 230.64 
L 270.79 193.52 
L 271.04 243.35 
L 271.30 181.34 
L 271.55 236.14 
L 271.8 203.30 
L 272.05 247.30 
L 272.30 194.38 
L 272.56 235.25 
L 272.81 200.95 
L 273.06 248.43 
L 273.31 184.91 
L 273.56 230.35 
L 273.82 185.02 
L 274.07 249.12 
L 274.32 191.22 
L 274.57 246.32 
L 274.82 195.86 
L 275.09 463.5 
L 275.59 463.5 
L 276.59 251.56 
L 276.84 188.28 
L 277.09 249.92 
L 277.34 197.00 
L 277.60 248.03 
L 277.85 187.48 
L 278.1 233.09 
L 278.35 203.23 
L 278.60 236.33 
L 278.86 189.66 
L 279.11 249.81 
L 279.36 190.32 
L 279.61 252.79 
L 279.86 190.32 
L 280.12 248.63 
L 280.37 191.55 
L 280.62 253.11 
L 280.87 205.93 
L 281.12 250.45 
L 281.38 193.57 
L 281.63 247.93 
L 282.07 459.9 
L 282.57 459.9 
L 283.39 198.99 
L 283.64 250.33 
L 283.90 211.96 
L 284.15 263.77 
L 284.4 197.74 
L 284.65 264.91 
L 284.90 214.89 
L 285.16 244.31 
L 285.41 192.64 
L 285.66 240.48 
L 285.91 188.92 
L 286.16 252.53 
L 286.42 189.84 
L 286.67 237.36 
L 286.92 180.97 
L 287.17 251.10 
L 287.42 185.48 
L 287.68 250.84 
L 287.93 175.15 
L 288.18 243.61 
L 288.43 189.15 
L 288.68 233.43 
L 289.04 450 
L 289.54 450 
L 290.45 169.41 
L 290.7 238.09 
L 290.95 178.67 
L 291.20 236.14 
L 291.46 183.27 
L 291.71 227.30 
L 291.96 166.69 
L 292.21 214.67 
L 292.46 163.93 
L 292.72 225.43 
L 292.97 163.28 
L 293.22 211.77 
L 293.47 171.01 
L 293.72 217.75 
L 293.98 167.35 
L 294.23 218.07 
L 294.48 176.54 
L 294.73 222.62 
L 294.98 185.29 
L 295.24 226.95 
L 295.49 173.00 
L 295.74 221.68 
L 296.02 442.8 
L 296.52 442.8 
L 297.50 171.09 
L 297.76 220.26 
L 298.01 171.27 
L 298.26 213.37 
L 298.51 175.32 
L 298.76 226.26 
L 299.02 180.68 
L 299.27 224.22 
L 299.52 181.18 
L 299.77 227.99 
L 300.02 177.89 
L 300.28 222.24 
L 300.53 187.17 
L 300.78 226.51 
L 301.03 176.89 
L 301.28 219.55 
L 301.54 178.83 
L 301.79 224.87 
L 302.04 179.94 
L 302.29 223.43 
L 302.54 175.73 
L 302.99 387 
L 303.49 387 
L 304.31 210.09 
L 304.56 164.61 
L 304.81 213.73 
L 305.06 169.12 
L 305.32 211.19 
L 305.57 160.07 
L 305.82 216.28 
L 306.07 153.86 
L 306.32 215.68 
L 306.58 155.24 
L 306.83 215.28 
L 307.08 146.25 
L 307.33 204.81 
L 307.58 145.79 
L 307.84 214.87 
L 308.09 154.66 
L 308.34 213.57 
L 308.59 154.19 
L 308.84 201.69 
L 309.10 140.62 
L 309.35 203.61 
L 309.6 133.74 
L 309.97 450.9 
L 310.47 450.9 
L 311.36 203.94 
L 311.62 127.90 
L 311.87 211.32 
L 312.12 126.78 
L 312.37 209.18 
L 312.62 132.17 
L 312.88 186.13 
L 313.13 133.49 
L 313.38 205.04 
L 313.63 136.65 
L 313.88 201.37 
L 314.14 154.97 
L 314.39 191.29 
L 314.64 138.00 
L 314.89 207.22 
L 315.14 152.00 
L 315.40 203.36 
L 315.65 144.82 
L 315.9 208.68 
L 316.15 150.89 
L 316.40 206.60 
L 316.66 139.30 
L 316.94 459 
L 317.44 459 
L 318.42 205.64 
L 318.67 136.06 
L 318.92 204.45 
L 319.18 133.51 
L 319.43 210.06 
L 319.68 144.38 
L 319.93 198.97 
L 320.18 132.14 
L 320.44 201.12 
L 320.69 148.47 
L 320.94 210.40 
L 321.19 131.68 
L 321.44 205.38 
L 321.70 139.52 
L 321.95 209.95 
L 322.2 148.86 
L 322.45 213.39 
L 322.70 154.66 
L 322.96 220.28 
L 323.21 166.26 
L 323.46 220.04 
L 323.92 441.36 
L 324.42 441.36 
L 325.22 181.40 
L 325.48 244.05 
L 325.73 191.85 
L 325.98 266.91 
L 326.23 181.54 
L 326.48 274.50 
L 326.74 200.47 
L 326.99 272.62 
L 327.24 206.90 
L 327.49 262.31 
L 327.74 193.12 
L 328.00 253.50 
L 328.25 196.91 
L 328.5 260.39 
L 328.75 184.02 
L 329.00 256.14 
L 329.26 186.60 
L 329.51 258.43 
L 329.76 184.02 
L 330.01 247.49 
L 330.26 178.34 
L 330.52 254.90 
L 330.89 381.6 
L 331.39 381.6 
L 332.28 177.08 
L 332.53 248.62 
L 332.78 177.62 
L 333.04 247.05 
L 333.29 175.50 
L 333.54 233.04 
L 333.79 175.64 
L 334.04 237.64 
L 334.30 179.36 
L 334.55 241.10 
L 334.8 190.41 
L 335.05 243.17 
L 335.30 194.67 
L 335.56 227.32 
L 335.81 187.46 
L 336.06 242.27 
L 336.31 184.57 
L 336.56 236.49 
L 336.82 183.90 
L 337.07 244.96 
L 337.32 187.71 
L 337.57 227.88 
L 337.87 464.4 
L 338.37 464.4 
L 339.34 158.94 
L 339.59 228.35 
L 339.84 158.18 
L 340.09 225.80 
L 340.34 166.86 
L 340.60 218.75 
L 340.85 142.82 
L 341.1 215.57 
L 341.35 137.20 
L 341.60 206.66 
L 341.86 153.00 
L 342.11 218.46 
L 342.36 163.83 
L 342.61 212.89 
L 342.86 155.08 
L 343.12 229.09 
L 343.37 158.06 
L 343.62 231.79 
L 343.87 162.74 
L 344.12 231.45 
L 344.38 182.80 
L 344.84 459.36 
L 345.34 459.36 
L 346.14 235.28 
L 346.39 177.18 
L 346.64 252.07 
L 346.90 193.29 
L 347.15 243.57 
L 347.4 179.43 
L 347.65 251.35 
L 347.90 197.22 
L 348.16 250.09 
L 348.41 187.43 
L 348.66 250.08 
L 348.91 190.19 
L 349.16 248.89 
L 349.42 180.27 
L 349.67 247.91 
L 349.92 180.04 
L 350.17 230.80 
L 350.42 172.46 
L 350.68 243.77 
L 350.93 185.38 
L 351.18 236.28 
L 351.43 176.32 
L 351.82 446.76 
L 352.32 446.76 
L 353.20 229.14 
L 353.45 182.94 
L 353.7 228.68 
L 353.95 190.03 
L 354.20 233.84 
L 354.46 183.10 
L 354.71 221.59 
L 354.96 191.65 
L 355.21 235.87 
L 355.46 192.48 
L 355.72 235.51 
L 355.97 188.00 
L 356.22 225.36 
L 356.47 188.16 
L 356.72 235.83 
L 356.98 186.96 
L 357.23 237.22 
L 357.48 186.74 
L 357.73 236.37 
L 357.98 186.94 
L 358.24 238.58 
L 358.49 191.37 
L 358.79 447.3 
L 359.29 447.3 
L 360.25 246.85 
L 360.50 194.34 
L 360.76 236.29 
L 361.01 199.28 
L 361.26 240.46 
L 361.51 197.21 
L 361.76 246.94 
L 362.02 210.02 
L 362.27 240.63 
L 362.52 197.57 
L 362.77 248.96 
L 363.02 199.86 
L 363.28 244.14 
L 363.53 197.66 
L 363.78 253.08 
L 364.03 208.84 
L 364.28 250.86 
L 364.54 196.22 
L 364.79 239.40 
L 365.04 182.28 
L 365.29 266.38 
L 365.77 463.5 
L 366.27 463.5 
L 367.31 285.71 
L 367.56 90.64 
L 367.81 256.95 
L 368.06 70.11 
L 368.32 252.87 
L 368.57 66.97 
L 368.82 303.24 
L 369.07 70.17 
L 369.32 290.29 
L 369.58 45.41 
L 369.83 281.76 
L 370.08 97.50 
L 370.33 314.48 
L 370.58 67.64 
L 370.84 274.49 
L 371.09 56.66 
L 371.34 313.94 
L 371.59 54.73 
L 371.84 296.52 
L 372.10 82.56 
L 372.35 295.79 
L 372.74 460.8 
L 373.24 460.8 
L 374.11 104.23 
L 374.36 255.56 
L 374.62 44.39 
L 374.87 316.60 
L 375.12 54.48 
L 375.37 307.40 
L 375.62 126.50 
L 375.88 324.35 
L 376.13 68.10 
L 376.38 306.06 
L 376.63 94.11 
L 376.88 282.85 
L 377.14 97.55 
L 377.39 321.88 
L 377.64 102.66 
L 377.89 258.14 
L 378.14 141.27 
L 378.40 322.47 
L 378.65 146.50 
L 378.9 319.10 
L 379.15 141.49 
L 379.40 327.83 
L 379.72 465.48 
L 380.22 465.48 
L 381.17 78.30 
L 381.42 329.22 
L 381.67 68.62 
L 381.92 333.16 
L 382.18 64.49 
L 382.43 315.85 
L 382.68 70.50 
L 382.93 301.91 
L 383.18 63.59 
L 383.44 326.32 
L 383.69 63.11 
L 383.94 276.66 
L 384.19 56.55 
L 384.44 306.12 
L 384.70 94.33 
L 384.95 302.48 
L 385.2 108.77 
L 385.45 244.42 
L 385.70 51.25 
L 385.96 269.06 
L 386.21 49.64 
L 386.69 451.26 
L 387.19 451.26 
L 388.22 49.83 
L 388.48 243.27 
L 388.73 88.86 
L 388.98 320.45 
L 389.23 117.38 
L 389.48 320.94 
L 389.74 50.11 
L 389.99 311.34 
L 390.24 119.98 
L 390.49 318.69 
L 390.74 115.88 
L 391.00 286.93 
L 391.25 46.81 
L 391.5 289.59 
L 391.75 62.48 
L 392.00 288.55 
L 392.26 88.33 
L 392.51 275.60 
L 392.76 123.58 
L 393.01 309.89 
L 393.26 96.61 
L 393.67 453.6 
L 394.17 453.6 
L 395.03 244.66 
L 395.28 117.12 
L 395.53 307.91 
L 395.78 116.66 
L 396.04 307.21 
L 396.29 54.93 
L 396.54 274.49 
L 396.79 62.56 
L 397.04 304.52 
L 397.30 58.30 
L 397.55 304.32 
L 397.8 49.59 
L 398.05 317.83 
L 398.30 95.58 
L 398.56 291.22 
L 398.81 87.69 
L 399.06 264.48 
L 399.31 58.07 
L 399.56 309.35 
L 399.82 61.86 
L 400.07 305.01 
L 400.32 103.86 
L 400.64 451.8 
L 401.14 451.8 
L 402.08 283.55 
L 402.34 131.41 
L 402.59 294.66 
L 402.84 133.43 
L 403.09 309.12 
L 403.34 158.18 
L 403.60 315.22 
L 403.85 153.56 
L 404.1 299.88 
L 404.35 166.12 
L 404.60 317.51 
L 404.86 173.83 
L 405.11 318.22 
L 405.36 196.32 
L 405.61 316.28 
L 405.86 151.60 
L 406.12 316.15 
L 406.37 198.40 
L 406.62 313.84 
L 406.87 166.96 
L 407.12 267.94 
L 407.62 465.3 
L 408.12 465.3 
L 409.14 317.15 
L 409.39 143.49 
L 409.64 300.89 
L 409.90 109.52 
L 410.15 317.43 
L 410.4 83.09 
L 410.65 321.76 
L 410.90 50.23 
L 411.16 248.74 
L 411.41 64.37 
L 411.66 308.54 
L 411.91 87.63 
L 412.16 305.85 
L 412.42 52.14 
L 412.67 229.87 
L 412.92 107.16 
L 413.17 263.82 
L 413.42 46.45 
L 413.68 280.51 
L 413.93 44.99 
L 414.18 278.45 
L 414.59 452.16 
L 415.09 452.16 
L 415.94 50.92 
L 416.20 264.05 
L 416.45 43.71 
L 416.7 227.83 
L 416.95 74.45 
L 417.20 250.23 
L 417.46 69.23 
L 417.71 269.48 
L 417.96 47.81 
L 418.21 246.53 
L 418.46 104.74 
L 418.72 224.13 
L 418.97 71.11 
L 419.22 251.88 
L 419.47 43.22 
L 419.72 216.77 
L 419.98 43.51 
L 420.23 270.62 
L 420.48 76.19 
L 420.73 227.15 
L 420.98 85.83 
L 421.24 259.17 
L 421.57 452.7 
L 422.07 452.7 
L 423 54.74 
L 423.25 275.69 
L 423.50 61.69 
L 423.76 286.67 
L 424.01 57.63 
L 424.26 287.74 
L 424.51 81.19 
L 424.76 275.66 
L 425.02 100.62 
L 425.27 237.11 
L 425.52 50.95 
L 425.77 296.64 
L 426.02 113.84 
L 426.28 289.79 
L 426.53 57.74 
L 426.78 317.55 
L 427.03 143.49 
L 427.28 300.70 
L 427.54 81.44 
L 427.79 313.97 
L 428.04 108.48 
L 428.29 315.92 
L 428.54 444.6 
L 429.04 444.6 
L 430.06 139.23 
L 430.31 282.46 
L 430.56 141.23 
L 430.81 311.34 
L 431.06 162.89 
L 431.32 318.49 
L 431.57 154.88 
L 431.82 320.92 
L 432.07 141.56 
L 432.32 271.20 
L 432.58 143.11 
L 432.83 323.82 
L 433.08 127.67 
L 433.33 292.42 
L 433.58 107.26 
L 433.84 311.13 
L 434.09 97.79 
L 434.34 291.76 
L 434.59 98.09 
L 434.84 289.46 
L 435.10 85.11 
L 435.52 462.96 
L 436.02 462.96 
L 436.86 265.76 
L 437.11 59.63 
L 437.36 276.98 
L 437.62 53.19 
L 437.87 290.18 
L 438.12 52.62 
L 438.37 283.99 
L 438.62 109.83 
L 438.88 290.97 
L 439.13 89.51 
L 439.38 249.07 
L 439.63 52.45 
L 439.88 245.14 
L 440.14 43.50 
L 440.39 243.69 
L 440.64 66.74 
L 440.89 242.15 
L 441.14 69.68 
L 441.40 183.64 
L 441.65 98.58 
L 441.9 187.66 
L 442.15 79.67 
L 442.49 444.6 
L 442.99 444.6 
L 443.92 214.16 
L 444.17 45.45 
L 444.42 214.94 
L 444.67 47.94 
L 444.92 229.92 
L 445.18 44.13 
L 445.43 195.28 
L 445.68 91.37 
L 445.93 231.15 
L 446.18 43.21 
L 446.44 227.03 
L 446.69 44.21 
L 446.94 226.46 
L 447.19 61.98 
L 447.44 216.15 
L 447.70 53.23 
L 447.95 221.13 
L 448.2 66.91 
L 448.45 216.44 
L 448.70 51.63 
L 448.96 207.11 
L 449.21 85.88 
L 449.47 452.16 
L 449.97 452.16 
L 450.97 178.85 
L 451.22 78.92 
L 451.48 216.41 
L 451.73 63.13 
L 451.98 172.58 
L 452.23 67.24 
L 452.48 214.31 
L 452.74 112.58 
L 452.99 219.10 
L 453.24 78.20 
L 453.49 217.81 
L 453.74 81.60 
L 454.00 209.47 
L 454.25 98.96 
L 454.5 213.33 
L 454.75 89.08 
L 455.00 191.30 
L 455.26 112.32 
L 455.51 202.88 
L 455.76 80.45 
L 456.01 202.47 
L 456.44 410.76 
L 456.94 410.76 
L 457.78 68.25 
L 458.03 184.54 
L 458.28 75.29 
L 458.53 209.83 
L 458.78 94.57 
L 459.04 185.47 
L 459.29 51.73 
L 459.54 183.60 
L 459.79 68.32 
L 460.04 169.66 
L 460.30 57.61 
L 460.55 138.17 
L 460.8 52.34 
L 461.05 132.73 
L 461.30 50.97 
L 461.56 154.97 
L 461.81 46.11 
L 462.06 132.41 
L 462.31 46.79 
L 462.56 145.39 
L 462.82 49.21 
L 463.07 131.35 
L 463.42 387.36 
L 463.92 387.36 
L 464.83 43.29 
L 465.08 151.92 
L 465.34 44.43 
L 465.59 157.87 
L 465.84 46.53 
L 466.09 149.72 
L 466.34 67.45 
L 466.60 130.93 
L 466.85 46.96 
L 467.1 144.75 
L 467.35 43.20 
L 467.60 144.75 
L 467.86 71.63 
L 468.11 141.13 
L 468.36 64.22 
L 468.61 119.01 
L 468.86 45.30 
L 469.12 104.96 
L 469.37 44.95 
L 469.62 94.95 
L 469.87 43.34 
L 470.12 111.02 
L 470.39 389.7 
L 470.89 389.7 
L 471.89 54.50 
L 472.14 96.31 
L 472.39 43.27 
L 472.64 104.14 
L 472.90 62.97 
L 473.15 106.99 
L 473.4 55.30 
L 473.65 111.12 
L 473.90 58.79 
L 474.16 104.39 
L 474.41 59.32 
L 474.66 98.65 
L 474.91 58.64 
L 475.16 111.24 
L 475.42 53.82 
L 475.67 112.73 
L 475.92 44.72 
L 476.17 113.66 
L 476.42 50.96 
L 476.68 109.48 
L 476.93 63.08 
L 477.37 442.8 
L 477.87 442.8 
L 478.69 113.30 
L 478.94 54.01 
L 479.20 122.70 
L 479.45 43.38 
L 479.7 115.05 
L 479.95 60.49 
L 480.20 107.46 
L 480.46 43.26 
L 480.71 106.49 
L 480.96 46.08 
L 481.21 85.97 
L 481.46 40.40 
L 481.72 50.95 
L 481.97 30.14 
L 482.22 35.64 
L 482.47 29.61 
L 482.72 34.30 
L 482.98 29.88 
L 483.23 35.52 
L 483.48 30.23 
L 483.73 35.49 
L 483.98 30.81 
L 484.34 390.96 
L 484.84 390.96 
L 485.75 35.44 
L 486 28.82 
L 486.25 34.66 
L 486.50 28.81 
L 486.76 33.99 
L 487.01 30.46 
L 487.26 35.80 
L 487.51 28.84 
L 487.76 34.31 
L 488.02 29.30 
L 488.27 35.97 
L 488.52 29.34 
L 488.77 35.87 
L 489.02 29.16 
L 489.28 35.11 
L 489.53 30.61 
L 489.78 34.61 
L 490.03 28.86 
L 490.28 35.51 
L 490.54 29.32 
L 490.79 33.89 
L 491.04 28.82 
L 491.32 420.12 
L 491.82 420.12 
L 492.80 34.14 
L 493.06 28.82 
L 493.31 35.91 
L 493.56 28.82 
L 493.81 34.91 
L 494.06 28.99 
L 494.32 34.25 
L 494.57 30.52 
L 494.82 34.11 
L 495.07 28.94 
L 495.32 36.00 
L 495.58 29.12 
L 495.83 34.00 
L 496.08 30.06 
L 496.33 35.99 
L 496.58 29.87 
L 496.84 34.18 
L 497.09 30.82 
L 497.34 34.89 
L 497.59 30.41 
L 497.84 34.47 
L 498.29 395.1 
L 498.79 395.1 
L 499.61 29.48 
L 499.86 35.41 
L 500.11 30.74 
L 500.36 35.83 
L 500.62 30.96 
L 500.87 34.20 
L 501.12 29.09 
L 501.37 35.77 
L 501.62 28.83 
L 501.88 37.85 
L 502.13 32.53 
L 502.38 107.28 
L 502.63 62.26 
L 502.88 159.53 
L 503.14 64.75 
L 503.39 176.66 
L 503.64 43.29 
L 503.89 201.92 
L 504.14 55.13 
L 504.40 202.20 
L 504.65 55.34 
L 504.9 176.44 
L 505.27 394.02 
L 505.77 394.02 
L 506.66 55.87 
L 506.92 191.41 
L 507.17 82.45 
L 507.42 190.21 
L 507.67 50.68 
L 507.92 178.22 
L 508.18 66.18 
L 508.43 152.42 
L 508.68 67.33 
L 508.93 186.15 
L 509.18 43.45 
L 509.44 169.25 
L 509.69 85.28 
L 509.94 191.51 
L 510.19 69.90 
L 510.44 190.14 
L 510.70 52.61 
L 510.95 179.37 
L 511.2 60.00 
L 511.45 150.33 
L 511.70 73.61 
L 511.96 188.77 
L 512.24 446.4 
L 512.74 446.4 
L 513.72 97.84 
L 513.97 203.52 
L 514.22 105.81 
L 514.48 202.16 
L 514.73 121.88 
L 514.98 182.70 
L 515.23 103.49 
L 515.48 193.94 
L 515.74 125.80 
L 515.99 202.69 
L 516.24 109.64 
L 516.49 201.13 
L 516.74 113.43 
L 517.00 178.18 
L 517.25 100.35 
L 517.5 178.30 
L 517.75 110.29 
L 518.00 186.35 
L 518.26 100.96 
L 518.51 182.26 
L 518.76 96.07 
L 519.22 398.16 
L 519.72 398.16 
L 520.52 221.82 
L 520.78 154.39 
L 521.03 236.11 
L 521.28 139.70 
L 521.53 244.54 
L 521.78 140.56 
L 522.04 252.40 
L 522.29 157.44 
L 522.54 262.75 
L 522.79 156.61 
L 523.04 282.00 
L 523.30 172.35 
L 523.55 280.22 
L 523.8 176.25 
L 524.05 288.56 
L 524.30 155.41 
L 524.56 282.88 
L 524.81 172.28 
L 525.06 259.87 
L 525.31 189.75 
L 525.56 295.07 
L 525.82 182.61 
L 526.19 462.96 
L 526.69 462.96 
L 527.58 302.35 
L 527.83 167.66 
L 528.08 307.05 
L 528.34 157.85 
L 528.59 307.82 
L 528.84 161.16 
L 529.09 313.23 
L 529.34 170.76 
L 529.60 280.28 
L 529.85 169.21 
L 530.1 238.72 
L 530.35 161.44 
L 530.60 231.41 
L 530.86 138.53 
L 531.11 215.01 
L 531.36 154.42 
L 531.61 219.67 
L 531.86 132.41 
L 532.12 208.85 
L 532.37 132.53 
L 532.62 194.95 
L 532.87 132.42 
L 533.17 393.12 
L 533.67 393.12 
L 534.64 185.91 
L 534.89 133.28 
L 535.14 193.02 
L 535.39 130.19 
L 535.64 198.56 
L 535.90 132.38 
L 536.15 203.05 
L 536.4 141.71 
L 536.65 190.44 
L 536.90 124.03 
L 537.16 200.23 
L 537.41 137.55 
L 537.66 177.28 
L 537.91 129.03 
L 538.16 181.47 
L 538.42 142.05 
L 538.67 185.36 
L 538.92 127.32 
L 539.17 196.26 
L 539.42 119.19 
L 539.68 186.80 
L 540.14 448.56 
L 540.64 448.56 
L 541.44 125.01 
L 541.69 190.60 
L 541.94 117.19 
L 542.20 179.39 
L 542.45 108.62 
L 542.7 189.42 
L 542.95 104.85 
L 543.20 175.27 
L 543.46 102.79 
L 543.71 189.87 
L 543.96 108.78 
L 544.21 188.66 
L 544.46 120.99 
L 544.72 173.08 
L 544.97 128.47 
L 545.22 172.41 
L 545.47 117.67 
L 545.72 189.01 
L 545.98 123.48 
L 546.23 175.72 
L 546.48 119.22 
L 546.73 175.78 
L 547.12 386.1 
L 547.62 386.1 
L 548.50 100.50 
L 548.75 177.91 
L 549 102.00 
L 549.25 178.54 
L 549.50 116.51 
L 549.76 171.61 
L 550.01 111.21 
L 550.26 159.73 
L 550.51 102.23 
L 550.76 178.31 
L 551.02 102.78 
L 551.27 181.59 
L 551.52 126.21 
L 551.77 185.87 
L 552.02 119.53 
L 552.28 169.13 
L 552.53 115.09 
L 552.78 173.93 
L 553.03 117.07 
L 553.28 187.71 
L 553.54 121.96 
L 553.79 191.45 
L 554.09 414 
L 554.59 414 
L 555.55 132.59 
L 555.80 189.37 
L 556.06 153.31 
L 556.31 206.85 
L 556.56 145.02 
L 556.81 219.80 
L 557.06 141.29 
L 557.32 222.74 
L 557.57 144.37 
L 557.82 221.10 
L 558.07 163.36 
L 558.32 220.15 
L 558.58 167.52 
L 558.83 216.14 
L 559.08 142.89 
L 559.33 223.84 
L 559.58 143.25 
L 559.84 232.91 
L 560.09 166.78 
L 560.34 230.35 
L 560.59 143.54 
L 561.07 390.6 
L 561.57 390.6 
L 562.61 149.23 
L 562.86 227.94 
L 563.11 147.20 
L 563.36 223.22 
L 563.62 163.01 
L 563.87 217.07 
L 564.12 122.79 
L 564.37 230.61 
L 564.62 115.41 
L 564.88 240.40 
L 565.13 106.23 
L 565.38 226.10 
L 565.63 131.58 
L 565.88 195.23 
L 566.14 119.99 
L 566.39 191.19 
L 566.64 98.59 
L 566.89 195.22 
L 567.14 102.09 
L 567.40 189.82 
L 567.65 102.06 
L 568.04 395.1 
L 568.54 395.1 
L 569.41 196.39 
L 569.66 101.94 
L 569.92 217.27 
L 570.17 109.22 
L 570.42 218.75 
L 570.67 129.65 
L 570.92 191.36 
L 571.18 130.34 
L 571.43 227.51 
L 571.68 122.09 
L 571.93 209.47 
L 572.18 151.40 
L 572.44 219.52 
L 572.69 124.55 
L 572.94 222.64 
L 573.19 129.42 
L 573.44 198.21 
L 573.70 115.97 
L 573.95 216.97 
L 574.2 108.00 
L 574.45 209.08 
L 574.70 118.09 
L 575.02 459 
L 575.52 459 
L 576.47 120.84 
L 576.72 46.09 
L 576.97 95.67 
L 577.22 51.68 
L 577.48 99.30 
L 577.73 43.83 
L 577.98 86.23 
L 578.23 47.10 
L 578.48 93.73 
L 578.74 48.33 
L 578.99 102.84 
L 579.24 44.77 
L 579.49 176.28 
L 579.74 45.09 
L 580.00 216.35 
L 580.25 78.43 
L 580.5 218.57 
L 580.75 94.19 
L 581.00 194.71 
L 581.26 94.89 
L 581.51 217.10 
L 581.99 433.8 
L 582.49 433.8 
L 583.52 198.64 
L 583.78 108.64 
L 584.03 224.65 
L 584.28 134.09 
L 584.53 222.16 
L 584.78 121.31 
L 585.04 198.95 
L 585.29 128.69 
L 585.54 198.69 
L 585.79 114.42 
L 586.04 199.92 
L 586.30 113.47 
L 586.55 222.86 
L 586.8 114.13 
L 587.05 221.33 
L 587.30 126.94 
L 587.56 200.56 
L 587.81 106.55 
L 588.06 225.20 
L 588.31 112.23 
L 588.56 220.66 
L 588.97 414 
L 589.47 414 
L 590.33 117.12 
L 590.58 237.54 
L 590.83 139.31 
L 591.08 236.93 
L 591.34 114.68 
L 591.59 238.23 
L 591.84 121.80 
L 592.09 224.01 
L 592.34 122.97 
L 592.60 242.78 
L 592.85 156.32 
L 593.1 220.69 
L 593.35 146.60 
L 593.60 236.85 
L 593.86 139.84 
L 594.11 223.86 
L 594.36 160.91 
L 594.61 237.04 
L 594.86 143.33 
L 595.12 237.58 
L 595.37 146.43 
L 595.62 233.70 
L 595.94 394.92 
L 596.44 394.92 
L 597.38 143.18 
L 597.64 222.05 
L 597.89 145.36 
L 598.14 230.78 
L 598.39 155.39 
L 598.64 223.49 
L 598.90 142.70 
L 599.15 217.41 
L 599.4 148.17 
L 599.65 213.05 
L 599.90 147.74 
L 600.16 223.15 
L 600.41 141.94 
L 600.66 238.59 
L 600.91 139.69 
L 601.16 238.17 
L 601.42 123.30 
L 601.67 240.99 
L 601.92 125.15 
L 602.17 242.53 
L 602.42 134.02 
L 602.68 221.81 
L 602.93 141.13 
L 603.18 239.50 
L 603.43 135.86 
" clip-path="url(#pb26753ab78)" style="fill: none; stroke: #0000ff; stroke-width: 1.5; stroke-linecap: square"/>
   </g>
   <g id="line2d_144">
    <path d="M 191.02 82.8 
L 191.23 144 
" clip-path="url(#pb26753ab78)" style="fill: none; stroke: #008000; stroke-width: 1.5; stroke-linecap: square"/>
   </g>
   <g id="line2d_145">
    <path d="M 340.70 64.8 
L 340.92 165.6 
" clip-path="url(#pb26753ab78)" style="fill: none; stroke: #008000; stroke-width: 1.5; stroke-linecap: square"/>
   </g>
   <g id="line2d_146">
    <path d="M 459.07 64.8 
L 459.29 193.68 
" clip-path="url(#pb26753ab78)" style="fill: none; stroke: #008000; stroke-width: 1.5; stroke-linecap: square"/>
   </g>
   <g id="line2d_147">
    <path d="M 519.34 141.12 
L 519.55 195.12 
" clip-path="url(#pb26753ab78)" style="fill: none; stroke: #008000; stroke-width: 1.5; stroke-linecap: square"/>
   </g>
   <g id="line2d_148">
    <path d="M 528.84 99.72 
L 529.06 150.12 
" clip-path="url(#pb26753ab78)" style="fill: none; stroke: #008000; stroke-width: 1.5; stroke-linecap: square"/>
   </g>
   <g id="line2d_149">
    <path d="M 579.82 64.8 
L 580.03 179.28 
" clip-path="url(#pb26753ab78)" style="fill: none; stroke: #008000; stroke-width: 1.5; stroke-linecap: square"/>
   </g>
   <g id="line2d_150">
    <path d="M 465.84 144 
L 466.06 239.04 
" clip-path="url(#pb26753ab78)" style="fill: none; stroke: #008000; stroke-width: 1.5; stroke-linecap: square"/>
   </g>
   <g id="line2d_151">
    <path d="M 473.76 100.8 
L 473.98 237.24 
" clip-path="url(#pb26753ab78)" style="fill: none; stroke: #008000; stroke-width: 1.5; stroke-linecap: square"/>
   </g>
   <g id="line2d_152">
    <path d="M 190.51 82.8 
L 190.8 144 
L 191.39 315.36 
L 191.89 315.36 
L 192.92 213.81 
L 193.18 198.48 
L 193.43 213.19 
L 193.68 198.85 
L 193.93 214.73 
L 194.18 199.14 
L 194.44 212.29 
L 194.69 199.39 
L 194.94 215.65 
L 195.19 201.69 
L 195.44 214.04 
L 195.70 197.07 
L 195.95 214.56 
L 196.2 198.34 
L 196.45 213.76 
L 196.70 197.37 
L 196.96 214.46 
L 197.21 197.93 
L 197.46 211.31 
L 197.71 198.41 
L 197.96 214.03 
L 198.37 441.9 
L 198.87 441.9 
L 199.73 198.70 
L 199.98 214.17 
L 200.23 202.13 
L 200.48 210.09 
L 200.74 198.55 
L 200.99 213.55 
L 201.24 199.20 
L 201.49 214.35 
L 201.74 200.76 
L 202.00 211.45 
L 202.25 200.53 
L 202.5 211.30 
L 202.75 196.30 
L 203.00 212.47 
L 203.26 196.27 
L 203.51 209.29 
L 203.76 194.28 
L 204.01 209.99 
L 204.26 196.01 
L 204.52 210.28 
L 204.77 191.06 
L 205.02 208.97 
L 205.34 455.4 
L 205.84 455.4 
L 206.78 191.92 
L 207.04 206.88 
L 207.29 190.39 
L 207.54 206.45 
L 207.79 191.70 
L 208.04 205.87 
L 208.30 190.00 
L 208.55 201.64 
L 208.8 187.07 
L 209.05 205.04 
L 209.30 188.28 
L 209.56 203.20 
L 209.81 186.92 
L 210.06 200.64 
L 210.31 186.11 
L 210.56 202.17 
L 210.82 185.52 
L 211.07 201.88 
L 211.32 184.37 
L 211.57 202.42 
L 211.82 183.18 
L 212.32 443.7 
L 212.82 443.7 
L 213.84 180.49 
L 214.09 199.21 
L 214.34 181.16 
L 214.60 196.80 
L 214.85 184.85 
L 215.1 194.65 
L 215.35 179.75 
L 215.60 197.31 
L 215.86 179.17 
L 216.11 197.69 
L 216.36 183.10 
L 216.61 197.49 
L 216.86 177.51 
L 217.12 194.18 
L 217.37 179.03 
L 217.62 195.57 
L 217.87 181.72 
L 218.12 194.32 
L 218.38 178.45 
L 218.63 194.47 
L 218.88 180.50 
L 219.29 435.6 
L 219.79 435.6 
L 220.64 191.60 
L 220.90 174.25 
L 221.15 190.51 
L 221.4 173.25 
L 221.65 186.18 
L 221.90 172.22 
L 222.16 190.43 
L 222.41 171.46 
L 222.66 190.77 
L 222.91 171.73 
L 223.16 190.46 
L 223.42 174.34 
L 223.67 187.17 
L 223.92 169.09 
L 224.17 185.39 
L 224.42 172.73 
L 224.68 189.07 
L 224.93 173.61 
L 225.18 184.31 
L 225.43 172.00 
L 225.68 188.55 
L 225.94 174.85 
L 226.27 447.3 
L 226.77 447.3 
L 227.7 187.00 
L 227.95 172.57 
L 228.20 184.84 
L 228.46 172.95 
L 228.71 189.44 
L 228.96 172.62 
L 229.21 189.54 
L 229.46 178.02 
L 229.72 190.41 
L 229.97 174.26 
L 230.22 186.10 
L 230.47 173.40 
L 230.72 191.22 
L 230.98 177.36 
L 231.23 191.99 
L 231.48 178.18 
L 231.73 187.88 
L 231.98 173.02 
L 232.24 189.52 
L 232.49 174.17 
L 232.74 188.49 
L 232.99 172.48 
L 233.24 455.04 
L 233.74 455.04 
L 234.76 189.40 
L 235.01 172.81 
L 235.26 188.15 
L 235.51 169.39 
L 235.76 188.13 
L 236.02 173.66 
L 236.27 187.42 
L 236.52 168.99 
L 236.77 181.78 
L 237.02 166.45 
L 237.28 182.50 
L 237.53 164.96 
L 237.78 182.47 
L 238.03 168.11 
L 238.28 180.62 
L 238.54 169.14 
L 238.79 181.05 
L 239.04 168.17 
L 239.29 182.87 
L 239.54 162.65 
L 239.80 182.07 
L 240.22 437.76 
L 240.72 437.76 
L 241.56 157.22 
L 241.81 177.78 
L 242.06 160.39 
L 242.32 172.06 
L 242.57 158.17 
L 242.82 175.83 
L 243.07 154.49 
L 243.32 170.90 
L 243.58 152.41 
L 243.83 170.34 
L 244.08 154.51 
L 244.33 172.66 
L 244.58 154.60 
L 244.84 172.40 
L 245.09 151.38 
L 245.34 169.52 
L 245.59 146.33 
L 245.84 169.71 
L 246.10 146.95 
L 246.35 168.30 
L 246.6 142.49 
L 246.85 161.06 
L 247.19 431.1 
L 247.69 431.1 
L 248.62 137.82 
L 248.87 158.95 
L 249.12 140.42 
L 249.37 159.26 
L 249.62 133.22 
L 249.88 154.31 
L 250.13 135.43 
L 250.38 151.10 
L 250.63 130.32 
L 250.88 150.86 
L 251.14 134.13 
L 251.39 152.82 
L 251.64 127.58 
L 251.89 150.92 
L 252.14 124.50 
L 252.40 149.36 
L 252.65 123.62 
L 252.9 147.66 
L 253.15 125.55 
L 253.40 144.38 
L 253.66 121.91 
L 253.91 143.38 
L 254.17 422.64 
L 254.67 422.64 
L 255.67 119.25 
L 255.92 136.36 
L 256.18 113.78 
L 256.43 131.70 
L 256.68 110.36 
L 256.93 126.73 
L 257.18 110.92 
L 257.44 131.86 
L 257.69 112.54 
L 257.94 126.69 
L 258.19 110.57 
L 258.44 124.58 
L 258.70 107.22 
L 258.95 127.46 
L 259.2 110.20 
L 259.45 122.77 
L 259.70 108.56 
L 259.96 125.77 
L 260.21 107.44 
L 260.46 126.60 
L 260.71 109.09 
L 261.14 419.4 
L 261.64 419.4 
L 262.48 129.71 
L 262.73 113.21 
L 262.98 131.14 
L 263.23 111.53 
L 263.48 127.84 
L 263.74 110.71 
L 263.99 132.35 
L 264.24 112.88 
L 264.49 128.57 
L 264.74 112.02 
L 265.00 129.15 
L 265.25 112.17 
L 265.5 133.27 
L 265.75 114.03 
L 266.00 131.32 
L 266.26 117.36 
L 266.51 129.30 
L 266.76 112.89 
L 267.01 131.01 
L 267.26 115.38 
L 267.52 133.97 
L 267.77 116.94 
L 268.12 447.84 
L 268.62 447.84 
L 269.53 143.09 
L 269.78 122.99 
L 270.04 144.70 
L 270.29 122.69 
L 270.54 144.95 
L 270.79 128.91 
L 271.04 151.97 
L 271.30 127.22 
L 271.55 149.69 
L 271.8 135.58 
L 272.05 150.77 
L 272.30 132.98 
L 272.56 157.62 
L 272.81 134.70 
L 273.06 160.23 
L 273.31 137.23 
L 273.56 161.84 
L 273.82 137.68 
L 274.07 162.93 
L 274.32 139.68 
L 274.57 164.15 
L 274.82 145.44 
L 275.09 433.8 
L 275.59 433.8 
L 276.59 165.56 
L 276.84 148.11 
L 277.09 168.69 
L 277.34 155.11 
L 277.60 168.80 
L 277.85 151.59 
L 278.1 167.80 
L 278.35 151.73 
L 278.60 168.06 
L 278.86 152.30 
L 279.11 172.50 
L 279.36 153.12 
L 279.61 172.65 
L 279.86 158.65 
L 280.12 173.24 
L 280.37 154.26 
L 280.62 171.52 
L 280.87 156.94 
L 281.12 170.11 
L 281.38 154.73 
L 281.63 173.55 
L 282.07 426.24 
L 282.57 426.24 
L 283.39 156.50 
L 283.64 172.55 
L 283.90 154.67 
L 284.15 171.63 
L 284.4 155.31 
L 284.65 173.80 
L 284.90 151.84 
L 285.16 172.37 
L 285.41 154.47 
L 285.66 168.20 
L 285.91 153.28 
L 286.16 168.77 
L 286.42 152.98 
L 286.67 166.01 
L 286.92 151.87 
L 287.17 162.97 
L 287.42 147.52 
L 287.68 159.88 
L 287.93 146.98 
L 288.18 159.83 
L 288.43 143.99 
L 288.68 159.07 
L 289.04 428.94 
L 289.54 428.94 
L 290.45 139.90 
L 290.7 155.97 
L 290.95 143.48 
L 291.20 153.56 
L 291.46 136.65 
L 291.71 151.55 
L 291.96 132.29 
L 292.21 148.60 
L 292.46 132.48 
L 292.72 147.25 
L 292.97 129.91 
L 293.22 138.81 
L 293.47 124.39 
L 293.72 141.87 
L 293.98 120.78 
L 294.23 142.10 
L 294.48 120.84 
L 294.73 137.26 
L 294.98 119.89 
L 295.24 137.71 
L 295.49 122.57 
L 295.74 141.53 
L 296.02 412.92 
L 296.52 412.92 
L 297.50 119.93 
L 297.76 140.41 
L 298.01 121.67 
L 298.26 140.21 
L 298.51 119.46 
L 298.76 136.38 
L 299.02 121.05 
L 299.27 137.13 
L 299.52 122.99 
L 299.77 137.36 
L 300.02 120.27 
L 300.28 136.49 
L 300.53 120.38 
L 300.78 138.64 
L 301.03 121.68 
L 301.28 139.20 
L 301.54 120.88 
L 301.79 137.35 
L 302.04 124.19 
L 302.29 139.46 
L 302.54 122.19 
L 302.99 443.7 
L 303.49 443.7 
L 304.31 136.30 
L 304.56 123.05 
L 304.81 138.74 
L 305.06 122.70 
L 305.32 136.52 
L 305.57 112.61 
L 305.82 133.97 
L 306.07 112.82 
L 306.32 134.78 
L 306.58 102.09 
L 306.83 132.49 
L 307.08 101.71 
L 307.33 122.93 
L 307.58 89.22 
L 307.84 123.05 
L 308.09 94.78 
L 308.34 130.01 
L 308.59 92.02 
L 308.84 124.54 
L 309.10 89.68 
L 309.35 127.63 
L 309.6 100.25 
L 309.97 417.96 
L 310.47 417.96 
L 311.36 123.91 
L 311.62 93.84 
L 311.87 129.51 
L 312.12 93.90 
L 312.37 127.51 
L 312.62 92.38 
L 312.88 132.16 
L 313.13 94.61 
L 313.38 130.40 
L 313.63 93.07 
L 313.88 136.95 
L 314.14 92.90 
L 314.39 136.04 
L 314.64 102.21 
L 314.89 129.18 
L 315.14 99.70 
L 315.40 132.72 
L 315.65 92.37 
L 315.9 131.90 
L 316.15 101.50 
L 316.40 130.79 
L 316.66 96.87 
L 316.94 421.2 
L 317.44 421.2 
L 318.42 125.79 
L 318.67 92.57 
L 318.92 128.06 
L 319.18 92.84 
L 319.43 125.87 
L 319.68 94.40 
L 319.93 130.65 
L 320.18 103.80 
L 320.44 127.85 
L 320.69 100.62 
L 320.94 133.39 
L 321.19 103.28 
L 321.44 135.14 
L 321.70 111.95 
L 321.95 132.58 
L 322.2 112.16 
L 322.45 138.99 
L 322.70 117.22 
L 322.96 145.70 
L 323.21 121.07 
L 323.46 146.60 
L 323.92 417.24 
L 324.42 417.24 
L 325.22 146.68 
L 325.48 169.70 
L 325.73 150.20 
L 325.98 168.76 
L 326.23 145.76 
L 326.48 176.30 
L 326.74 146.25 
L 326.99 178.52 
L 327.24 149.05 
L 327.49 171.38 
L 327.74 152.15 
L 328.00 174.58 
L 328.25 151.59 
L 328.5 173.66 
L 328.75 150.53 
L 329.00 165.15 
L 329.26 141.35 
L 329.51 164.81 
L 329.76 144.67 
L 330.01 165.30 
L 330.26 145.42 
L 330.52 165.28 
L 330.89 448.2 
L 331.39 448.2 
L 332.28 135.80 
L 332.53 160.90 
L 332.78 135.52 
L 333.04 159.05 
L 333.29 135.84 
L 333.54 161.68 
L 333.79 135.30 
L 334.04 161.78 
L 334.30 140.19 
L 334.55 163.14 
L 334.8 137.19 
L 335.05 160.54 
L 335.30 135.24 
L 335.56 163.38 
L 335.81 142.40 
L 336.06 155.75 
L 336.31 140.63 
L 336.56 164.55 
L 336.82 137.94 
L 337.07 163.01 
L 337.32 130.74 
L 337.57 162.83 
L 337.87 431.1 
L 338.37 431.1 
L 339.34 126.76 
L 339.59 165.64 
L 339.84 124.52 
L 340.09 155.39 
L 340.34 119.58 
L 340.60 155.03 
L 340.85 113.32 
L 341.1 150.48 
L 341.35 108.54 
L 341.60 145.74 
L 341.86 115.23 
L 342.11 141.48 
L 342.36 106.53 
L 342.61 129.33 
L 342.86 98.20 
L 343.12 127.46 
L 343.37 93.92 
L 343.62 127.38 
L 343.87 102.57 
L 344.12 130.52 
L 344.38 103.24 
L 344.84 425.34 
L 345.34 425.34 
L 346.14 148.74 
L 346.39 124.56 
L 346.64 157.11 
L 346.90 130.36 
L 347.15 159.07 
L 347.4 121.08 
L 347.65 154.28 
L 347.90 117.16 
L 348.16 143.78 
L 348.41 115.82 
L 348.66 143.53 
L 348.91 115.07 
L 349.16 134.45 
L 349.42 113.81 
L 349.67 134.50 
L 349.92 117.17 
L 350.17 127.87 
L 350.42 114.16 
L 350.68 121.64 
L 350.93 110.73 
L 351.18 123.67 
L 351.43 112.34 
L 351.82 412.2 
L 352.32 412.2 
L 353.20 124.34 
L 353.45 105.58 
L 353.7 122.81 
L 353.95 104.60 
L 354.20 120.83 
L 354.46 104.82 
L 354.71 120.80 
L 354.96 104.50 
L 355.21 123.94 
L 355.46 104.85 
L 355.72 122.26 
L 355.97 107.13 
L 356.22 126.43 
L 356.47 111.48 
L 356.72 124.40 
L 356.98 106.54 
L 357.23 124.24 
L 357.48 109.69 
L 357.73 126.58 
L 357.98 112.70 
L 358.24 129.42 
L 358.49 115.53 
L 358.79 421.2 
L 359.29 421.2 
L 360.25 146.70 
L 360.50 127.96 
L 360.76 147.10 
L 361.01 125.96 
L 361.26 147.33 
L 361.51 124.61 
L 361.76 142.32 
L 362.02 126.12 
L 362.27 146.23 
L 362.52 128.00 
L 362.77 148.68 
L 363.02 131.36 
L 363.28 162.58 
L 363.53 139.32 
L 363.78 170.95 
L 364.03 143.98 
L 364.28 171.54 
L 364.54 154.51 
L 364.79 186.60 
L 365.04 157.35 
L 365.29 190.61 
L 365.77 431.64 
L 366.27 431.64 
L 367.31 202.76 
L 367.56 172.90 
L 367.81 205.07 
L 368.06 174.08 
L 368.32 206.84 
L 368.57 171.61 
L 368.82 202.93 
L 369.07 174.34 
L 369.32 203.92 
L 369.58 180.48 
L 369.83 202.17 
L 370.08 178.96 
L 370.33 202.49 
L 370.58 180.42 
L 370.84 201.71 
L 371.09 186.36 
L 371.34 212.92 
L 371.59 182.35 
L 371.84 214.00 
L 372.10 185.60 
L 372.35 217.69 
L 372.74 443.16 
L 373.24 443.16 
L 374.11 206.36 
L 374.36 223.17 
L 374.62 203.05 
L 374.87 228.94 
L 375.12 202.97 
L 375.37 221.66 
L 375.62 208.28 
L 375.88 229.44 
L 376.13 208.18 
L 376.38 228.63 
L 376.63 209.20 
L 376.88 229.25 
L 377.14 206.54 
L 377.39 230.07 
L 377.64 208.03 
L 377.89 225.31 
L 378.14 213.67 
L 378.40 227.43 
L 378.65 207.61 
L 378.9 231.88 
L 379.15 197.40 
L 379.40 223.67 
L 379.72 447.66 
L 380.22 447.66 
L 381.17 177.51 
L 381.42 238.64 
L 381.67 165.89 
L 381.92 240.72 
L 382.18 154.82 
L 382.43 250.75 
L 382.68 163.79 
L 382.93 238.44 
L 383.18 162.36 
L 383.44 258.43 
L 383.69 131.23 
L 383.94 247.13 
L 384.19 164.29 
L 384.44 250.41 
L 384.70 134.14 
L 384.95 243.60 
L 385.2 168.27 
L 385.45 227.66 
L 385.70 165.72 
L 385.96 246.27 
L 386.21 142.59 
L 386.69 450 
L 387.19 450 
L 388.22 171.06 
L 388.48 247.94 
L 388.73 168.20 
L 388.98 250.49 
L 389.23 148.36 
L 389.48 247.18 
L 389.74 141.89 
L 389.99 258.98 
L 390.24 141.50 
L 390.49 262.12 
L 390.74 147.82 
L 391.00 267.19 
L 391.25 161.94 
L 391.5 266.90 
L 391.75 148.03 
L 392.00 252.88 
L 392.26 143.39 
L 392.51 262.78 
L 392.76 156.71 
L 393.01 258.34 
L 393.26 176.41 
L 393.67 432 
L 394.17 432 
L 395.03 264.34 
L 395.28 172.92 
L 395.53 251.39 
L 395.78 180.46 
L 396.04 273.57 
L 396.29 183.93 
L 396.54 265.49 
L 396.79 177.31 
L 397.04 253.13 
L 397.30 169.51 
L 397.55 250.60 
L 397.8 192.58 
L 398.05 258.88 
L 398.30 172.84 
L 398.56 273.77 
L 398.81 164.75 
L 399.06 265.50 
L 399.31 189.53 
L 399.56 290.09 
L 399.82 176.35 
L 400.07 274.02 
L 400.32 147.82 
L 400.64 431.64 
L 401.14 431.64 
L 402.08 295.42 
L 402.34 127.19 
L 402.59 288.49 
L 402.84 126.29 
L 403.09 270.68 
L 403.34 135.86 
L 403.60 276.70 
L 403.85 105.34 
L 404.1 304.38 
L 404.35 150.51 
L 404.60 245.79 
L 404.86 133.46 
L 405.11 241.38 
L 405.36 141.56 
L 405.61 257.95 
L 405.86 130.86 
L 406.12 259.84 
L 406.37 138.47 
L 406.62 253.41 
L 406.87 141.28 
L 407.12 237.05 
L 407.62 442.8 
L 408.12 442.8 
L 409.14 206.80 
L 409.39 131.25 
L 409.64 206.34 
L 409.90 143.30 
L 410.15 182.06 
L 410.4 123.38 
L 410.65 196.64 
L 410.90 139.71 
L 411.16 173.94 
L 411.41 126.04 
L 411.66 176.37 
L 411.91 130.68 
L 412.16 176.09 
L 412.42 129.98 
L 412.67 190.70 
L 412.92 142.44 
L 413.17 195.66 
L 413.42 148.40 
L 413.68 197.41 
L 413.93 153.13 
L 414.18 190.34 
L 414.59 446.04 
L 415.09 446.04 
L 415.94 162.91 
L 416.20 191.25 
L 416.45 161.30 
L 416.7 192.22 
L 416.95 155.57 
L 417.20 192.93 
L 417.46 166.89 
L 417.71 198.99 
L 417.96 158.25 
L 418.21 197.66 
L 418.46 156.41 
L 418.72 197.42 
L 418.97 159.13 
L 419.22 194.42 
L 419.47 148.04 
L 419.72 193.38 
L 419.98 142.67 
L 420.23 177.95 
L 420.48 137.82 
L 420.73 182.63 
L 420.98 133.10 
L 421.24 173.52 
L 421.57 423.9 
L 422.07 423.9 
L 423 119.80 
L 423.25 153.49 
L 423.50 120.25 
L 423.76 160.89 
L 424.01 120.50 
L 424.26 156.95 
L 424.51 120.09 
L 424.76 163.83 
L 425.02 120.20 
L 425.27 155.92 
L 425.52 124.91 
L 425.77 160.73 
L 426.02 121.04 
L 426.28 166.45 
L 426.53 130.86 
L 426.78 159.57 
L 427.03 129.00 
L 427.28 154.71 
L 427.54 126.71 
L 427.79 169.11 
L 428.04 128.42 
L 428.29 169.29 
L 428.54 434.7 
L 429.04 434.7 
L 430.06 136.26 
L 430.31 165.50 
L 430.56 136.24 
L 430.81 174.59 
L 431.06 140.56 
L 431.32 178.16 
L 431.57 128.47 
L 431.82 183.61 
L 432.07 136.32 
L 432.32 185.10 
L 432.58 132.67 
L 432.83 187.45 
L 433.08 130.75 
L 433.33 192.53 
L 433.58 128.61 
L 433.84 180.63 
L 434.09 127.45 
L 434.34 181.54 
L 434.59 138.48 
L 434.84 174.56 
L 435.10 131.31 
L 435.52 434.7 
L 436.02 434.7 
L 436.86 151.35 
L 437.11 108.20 
L 437.36 166.26 
L 437.62 120.64 
L 437.87 163.23 
L 438.12 109.53 
L 438.37 149.94 
L 438.62 104.25 
L 438.88 148.41 
L 439.13 104.96 
L 439.38 165.12 
L 439.63 101.58 
L 439.88 160.83 
L 440.14 105.43 
L 440.39 150.49 
L 440.64 102.31 
L 440.89 164.89 
L 441.14 103.75 
L 441.40 157.67 
L 441.65 115.30 
L 441.9 159.67 
L 442.15 111.99 
L 442.49 441.36 
L 442.99 441.36 
L 443.92 156.75 
L 444.17 106.06 
L 444.42 159.53 
L 444.67 104.29 
L 444.92 156.61 
L 445.18 104.99 
L 445.43 153.76 
L 445.68 105.10 
L 445.93 152.11 
L 446.18 98.73 
L 446.44 155.19 
L 446.69 116.01 
L 446.94 157.78 
L 447.19 110.89 
L 447.44 155.32 
L 447.70 111.71 
L 447.95 158.68 
L 448.2 107.04 
L 448.45 157.42 
L 448.70 120.23 
L 448.96 161.50 
L 449.21 107.85 
L 449.47 423.9 
L 449.97 423.9 
L 450.97 162.01 
L 451.22 114.17 
L 451.48 166.23 
L 451.73 116.46 
L 451.98 169.90 
L 452.23 131.82 
L 452.48 167.52 
L 452.74 118.64 
L 452.99 159.49 
L 453.24 135.16 
L 453.49 162.30 
L 453.74 119.32 
L 454.00 172.18 
L 454.25 119.15 
L 454.5 166.62 
L 454.75 124.81 
L 455.00 154.72 
L 455.26 122.91 
L 455.51 170.40 
L 455.76 109.69 
L 456.01 172.47 
L 456.44 419.4 
L 456.94 419.4 
L 457.78 106.03 
L 458.03 172.67 
L 458.28 97.39 
L 458.53 163.20 
L 458.78 109.79 
L 459.04 161.97 
L 459.29 113.58 
L 459.54 163.74 
L 459.79 111.61 
L 460.04 162.38 
L 460.30 107.67 
L 460.55 174.19 
L 460.8 120.47 
L 461.05 176.03 
L 461.30 117.08 
L 461.56 177.11 
L 461.81 117.14 
L 462.06 166.42 
L 462.31 124.02 
L 462.56 177.93 
L 462.82 118.89 
L 463.07 170.84 
L 463.42 434.7 
L 463.92 434.7 
L 464.83 140.16 
L 465.08 181.48 
L 465.34 135.26 
L 465.59 173.25 
L 465.84 127.52 
L 466.09 180.75 
L 466.34 134.70 
L 466.60 183.26 
L 466.85 139.72 
L 467.1 174.13 
L 467.35 144.32 
L 467.60 178.77 
L 467.86 135.48 
L 468.11 167.92 
L 468.36 134.33 
L 468.61 166.61 
L 468.86 130.22 
L 469.12 170.92 
L 469.37 124.57 
L 469.62 168.09 
L 469.87 121.90 
L 470.12 164.58 
L 470.39 444.96 
L 470.89 444.96 
L 471.89 102.32 
L 472.14 144.94 
L 472.39 105.05 
L 472.64 151.15 
L 472.90 106.05 
L 473.15 145.17 
L 473.4 106.69 
L 473.65 141.77 
L 473.90 112.38 
L 474.16 150.99 
L 474.41 110.20 
L 474.66 146.39 
L 474.91 115.95 
L 475.16 150.49 
L 475.42 113.92 
L 475.67 149.83 
L 475.92 124.65 
L 476.17 151.85 
L 476.42 126.02 
L 476.68 153.32 
L 476.93 124.25 
L 477.37 428.76 
L 477.87 428.76 
L 478.69 160.67 
L 478.94 133.47 
L 479.20 164.15 
L 479.45 144.44 
L 479.7 170.25 
L 479.95 136.14 
L 480.20 169.02 
L 480.46 143.11 
L 480.71 176.17 
L 480.96 148.45 
L 481.21 175.99 
L 481.46 141.99 
L 481.72 180.05 
L 481.97 144.51 
L 482.22 177.50 
L 482.47 153.17 
L 482.72 182.96 
L 482.98 147.89 
L 483.23 180.40 
L 483.48 151.64 
L 483.73 183.98 
L 483.98 158.90 
L 484.34 434.34 
L 484.84 434.34 
L 485.75 182.87 
L 486 159.81 
L 486.25 190.84 
L 486.50 163.25 
L 486.76 192.96 
L 487.01 163.84 
L 487.26 194.30 
L 487.51 165.04 
L 487.76 195.33 
L 488.02 168.61 
L 488.27 194.11 
L 488.52 171.62 
L 488.77 192.81 
L 489.02 176.18 
L 489.28 195.78 
L 489.53 176.24 
L 489.78 195.98 
L 490.03 174.70 
L 490.28 192.61 
L 490.54 173.51 
L 490.79 196.59 
L 491.04 176.08 
L 491.32 441.9 
L 491.82 441.9 
L 492.80 192.81 
L 493.06 176.60 
L 493.31 200.47 
L 493.56 178.80 
L 493.81 199.74 
L 494.06 178.26 
L 494.32 196.83 
L 494.57 180.28 
L 494.82 198.63 
L 495.07 178.83 
L 495.32 198.26 
L 495.58 178.79 
L 495.83 194.03 
L 496.08 181.62 
L 496.33 192.98 
L 496.58 179.86 
L 496.84 200.28 
L 497.09 175.00 
L 497.34 195.23 
L 497.59 173.32 
L 497.84 196.56 
L 498.29 454.5 
L 498.79 454.5 
L 499.61 173.75 
L 499.86 195.34 
L 500.11 167.13 
L 500.36 189.56 
L 500.62 167.33 
L 500.87 194.54 
L 501.12 163.55 
L 501.37 190.36 
L 501.62 163.44 
L 501.88 192.94 
L 502.13 167.03 
L 502.38 191.02 
L 502.63 164.69 
L 502.88 190.17 
L 503.14 167.94 
L 503.39 192.51 
L 503.64 165.66 
L 503.89 191.43 
L 504.14 171.68 
L 504.40 191.85 
L 504.65 166.97 
L 504.9 191.26 
L 505.27 438.66 
L 505.77 438.66 
L 506.66 173.34 
L 506.92 191.65 
L 507.17 171.90 
L 507.42 192.45 
L 507.67 168.97 
L 507.92 190.76 
L 508.18 173.67 
L 508.43 187.60 
L 508.68 170.12 
L 508.93 193.19 
L 509.18 170.04 
L 509.44 192.57 
L 509.69 176.69 
L 509.94 190.65 
L 510.19 171.42 
L 510.44 193.45 
L 510.70 175.20 
L 510.95 194.73 
L 511.2 176.47 
L 511.45 192.09 
L 511.70 173.91 
L 511.96 192.17 
L 512.24 435.6 
L 512.74 435.6 
L 513.72 178.42 
L 513.97 197.53 
L 514.22 175.37 
L 514.48 191.26 
L 514.73 178.70 
L 514.98 192.79 
L 515.23 177.05 
L 515.48 196.89 
L 515.74 176.20 
L 515.99 197.28 
L 516.24 175.46 
L 516.49 199.29 
L 516.74 174.59 
L 517.00 200.43 
L 517.25 175.60 
L 517.5 196.01 
L 517.75 177.29 
L 518.00 200.56 
L 518.26 180.40 
L 518.51 200.90 
L 518.76 182.29 
L 519.22 446.4 
L 519.72 446.4 
L 520.52 201.97 
L 520.78 178.26 
L 521.03 204.43 
L 521.28 180.49 
L 521.53 207.40 
L 521.78 187.13 
L 522.04 204.87 
L 522.29 179.10 
L 522.54 205.53 
L 522.79 182.23 
L 523.04 207.70 
L 523.30 185.41 
L 523.55 211.83 
L 523.8 191.63 
L 524.05 228.65 
L 524.30 206.23 
L 524.56 260.59 
L 524.81 216.73 
L 525.06 275.54 
L 525.31 236.28 
L 525.56 284.59 
L 525.82 227.32 
L 526.19 462.24 
L 526.69 462.24 
L 527.58 322.20 
L 527.83 243.48 
L 528.08 324.84 
L 528.34 243.78 
L 528.59 324.13 
L 528.84 254.70 
L 529.09 322.23 
L 529.34 242.74 
L 529.60 276.59 
L 529.85 190.72 
L 530.1 213.56 
L 530.35 168.69 
L 530.60 198.70 
L 530.86 157.63 
L 531.11 197.35 
L 531.36 159.50 
L 531.61 196.90 
L 531.86 153.41 
L 532.12 194.19 
L 532.37 158.89 
L 532.62 191.23 
L 532.87 155.97 
L 533.17 457.2 
L 533.67 457.2 
L 534.64 191.00 
L 534.89 166.14 
L 535.14 185.27 
L 535.39 168.45 
L 535.64 181.57 
L 535.90 164.13 
L 536.15 180.85 
L 536.4 165.31 
L 536.65 182.91 
L 536.90 169.73 
L 537.16 183.12 
L 537.41 165.49 
L 537.66 184.93 
L 537.91 165.10 
L 538.16 184.09 
L 538.42 163.25 
L 538.67 183.03 
L 538.92 168.01 
L 539.17 180.80 
L 539.42 164.74 
L 539.68 182.79 
L 540.14 435.6 
L 540.64 435.6 
L 541.44 158.96 
L 541.69 177.74 
L 541.94 157.54 
L 542.20 176.84 
L 542.45 158.26 
L 542.7 176.53 
L 542.95 153.97 
L 543.20 174.75 
L 543.46 152.69 
L 543.71 174.14 
L 543.96 153.73 
L 544.21 171.14 
L 544.46 151.46 
L 544.72 174.38 
L 544.97 155.27 
L 545.22 174.67 
L 545.47 155.44 
L 545.72 171.55 
L 545.98 149.49 
L 546.23 174.36 
L 546.48 153.55 
L 546.73 173.29 
L 547.12 431.64 
L 547.62 431.64 
L 548.50 148.03 
L 548.75 174.92 
L 549 150.95 
L 549.25 168.12 
L 549.50 151.07 
L 549.76 174.87 
L 550.01 156.17 
L 550.26 174.21 
L 550.51 148.46 
L 550.76 173.01 
L 551.02 149.01 
L 551.27 175.70 
L 551.52 153.13 
L 551.77 173.13 
L 552.02 158.00 
L 552.28 178.18 
L 552.53 158.31 
L 552.78 174.36 
L 553.03 153.26 
L 553.28 178.97 
L 553.54 157.27 
L 553.79 181.31 
L 554.09 432.36 
L 554.59 432.36 
L 555.55 160.55 
L 555.80 184.24 
L 556.06 166.34 
L 556.31 185.20 
L 556.56 163.33 
L 556.81 186.28 
L 557.06 164.21 
L 557.32 182.58 
L 557.57 165.64 
L 557.82 185.80 
L 558.07 160.90 
L 558.32 184.95 
L 558.58 167.67 
L 558.83 188.08 
L 559.08 159.74 
L 559.33 189.35 
L 559.58 166.88 
L 559.84 190.41 
L 560.09 157.69 
L 560.34 191.06 
L 560.59 164.95 
L 561.07 453.96 
L 561.57 453.96 
L 562.61 149.11 
L 562.86 190.24 
L 563.11 146.49 
L 563.36 186.51 
L 563.62 136.26 
L 563.87 172.59 
L 564.12 130.85 
L 564.37 181.99 
L 564.62 129.28 
L 564.88 174.22 
L 565.13 119.15 
L 565.38 175.88 
L 565.63 126.53 
L 565.88 175.33 
L 566.14 137.13 
L 566.39 165.01 
L 566.64 126.16 
L 566.89 161.03 
L 567.14 123.20 
L 567.40 171.81 
L 567.65 136.17 
L 568.04 447.66 
L 568.54 447.66 
L 569.41 177.14 
L 569.66 131.57 
L 569.92 178.66 
L 570.17 130.48 
L 570.42 174.09 
L 570.67 134.46 
L 570.92 181.58 
L 571.18 144.28 
L 571.43 181.28 
L 571.68 145.86 
L 571.93 179.70 
L 572.18 141.29 
L 572.44 184.58 
L 572.69 143.69 
L 572.94 188.43 
L 573.19 139.01 
L 573.44 179.26 
L 573.70 139.92 
L 573.95 191.00 
L 574.2 149.50 
L 574.45 193.64 
L 574.70 144.02 
L 575.02 434.16 
L 575.52 434.16 
L 576.47 39.84 
L 576.72 29.25 
L 576.97 38.91 
L 577.22 31.71 
L 577.48 40.10 
L 577.73 29.02 
L 577.98 43.00 
L 578.23 31.25 
L 578.48 40.25 
L 578.74 29.02 
L 578.99 43.02 
L 579.24 29.06 
L 579.49 43.12 
L 579.74 98.02 
L 580.00 173.41 
L 580.25 130.74 
L 580.5 171.22 
L 580.75 119.95 
L 581.00 165.16 
L 581.26 114.99 
L 581.51 158.96 
L 581.99 426.96 
L 582.49 426.96 
L 583.52 159.50 
L 583.78 116.15 
L 584.03 165.28 
L 584.28 127.76 
L 584.53 161.66 
L 584.78 125.52 
L 585.04 164.95 
L 585.29 132.61 
L 585.54 174.19 
L 585.79 131.00 
L 586.04 185.52 
L 586.30 132.97 
L 586.55 173.03 
L 586.8 143.38 
L 587.05 173.66 
L 587.30 144.77 
L 587.56 176.40 
L 587.81 138.07 
L 588.06 177.54 
L 588.31 136.57 
L 588.56 180.05 
L 588.97 425.7 
L 589.47 425.7 
L 590.33 142.16 
L 590.58 192.55 
L 590.83 147.63 
L 591.08 197.42 
L 591.34 161.33 
L 591.59 200.70 
L 591.84 150.54 
L 592.09 210.67 
L 592.34 158.62 
L 592.60 223.07 
L 592.85 155.10 
L 593.1 226.55 
L 593.35 157.96 
L 593.60 230.18 
L 593.86 167.70 
L 594.11 209.43 
L 594.36 162.65 
L 594.61 218.32 
L 594.86 170.41 
L 595.12 215.69 
L 595.37 167.58 
L 595.62 222.33 
L 595.94 466.2 
L 596.44 466.2 
L 597.38 158.32 
L 597.64 199.36 
L 597.89 158.72 
L 598.14 201.49 
L 598.39 150.09 
L 598.64 215.89 
L 598.90 139.49 
L 599.15 206.24 
L 599.4 138.20 
L 599.65 211.04 
L 599.90 131.94 
L 600.16 216.47 
L 600.41 133.70 
L 600.66 217.20 
L 600.91 148.48 
L 601.16 219.77 
L 601.42 151.76 
L 601.67 200.46 
L 601.92 127.38 
L 602.17 205.79 
L 602.42 131.87 
L 602.68 217.72 
L 602.93 142.34 
L 603.18 200.13 
L 603.43 126.12 
" clip-path="url(#pb26753ab78)" style="fill: none; stroke: #008000; stroke-width: 1.5; stroke-linecap: square"/>
   </g>
   <g id="line2d_153">
    <path d="M 193.39 119.88 
L 193.61 124.2 
" clip-path="url(#pb26753ab78)" style="fill: none; stroke: #ff0000; stroke-width: 1.5; stroke-linecap: square"/>
   </g>
   <g id="line2d_154">
    <path d="M 190.51 21.6 
L 191.68 21.6 
L 191.39 276.48 
L 191.89 276.48 
L 192.69 21.6 
L 192.92 21.6 
L 193.18 21.6 
L 193.43 21.6 
L 193.68 21.6 
L 193.93 21.6 
L 194.18 21.6 
L 194.44 21.6 
L 194.69 21.6 
L 194.94 21.6 
L 195.19 21.6 
L 195.44 21.6 
L 195.70 21.6 
L 195.95 21.6 
L 196.2 21.6 
L 196.45 21.6 
L 196.70 21.6 
L 196.96 21.6 
L 197.21 21.6 
L 197.46 21.6 
L 197.71 21.6 
L 197.96 21.6 
L 198.65 21.6 
L 198.37 401.76 
L 198.87 401.76 
L 199.66 21.6 
L 199.73 21.6 
L 199.98 21.6 
L 200.23 21.6 
L 200.48 21.6 
L 200.74 21.6 
L 200.99 21.6 
L 201.24 21.6 
L 201.49 21.6 
L 201.74 21.6 
L 202.00 21.6 
L 202.25 21.6 
L 202.5 21.6 
L 202.75 21.6 
L 203.00 21.6 
L 203.26 21.6 
L 203.51 21.6 
L 203.76 21.6 
L 204.01 21.6 
L 204.26 21.6 
L 204.52 21.6 
L 204.77 21.6 
L 205.02 21.6 
L 205.63 21.6 
L 205.34 398.34 
L 205.84 398.34 
L 206.64 21.6 
L 206.78 21.6 
L 207.04 21.6 
L 207.29 21.6 
L 207.54 21.6 
L 207.79 21.6 
L 208.04 21.6 
L 208.30 21.6 
L 208.55 21.6 
L 208.8 21.6 
L 209.05 21.6 
L 209.30 21.6 
L 209.56 21.6 
L 209.81 21.6 
L 210.06 21.6 
L 210.31 21.6 
L 210.56 21.6 
L 210.82 21.6 
L 211.07 21.6 
L 211.32 21.6 
L 211.57 21.6 
L 211.82 21.6 
L 212.60 21.6 
L 212.32 398.34 
L 212.82 398.34 
L 213.61 21.6 
L 213.84 21.6 
L 214.09 21.6 
L 214.34 21.6 
L 214.60 21.6 
L 214.85 21.6 
L 215.1 21.6 
L 215.35 21.6 
L 215.60 21.6 
L 215.86 21.6 
L 216.11 21.6 
L 216.36 21.6 
L 216.61 21.6 
L 216.86 21.6 
L 217.12 21.6 
L 217.37 21.6 
L 217.62 21.6 
L 217.87 21.6 
L 218.12 21.6 
L 218.38 21.6 
L 218.63 21.6 
L 218.88 21.6 
L 219.58 21.6 
L 219.29 424.44 
L 219.79 424.44 
L 220.59 21.6 
L 220.64 21.6 
L 220.90 21.6 
L 221.15 21.6 
L 221.4 21.6 
L 221.65 21.6 
L 221.90 21.6 
L 222.16 21.6 
L 222.41 21.6 
L 222.66 21.6 
L 222.91 21.6 
L 223.16 21.6 
L 223.42 21.6 
L 223.67 21.6 
L 223.92 21.6 
L 224.17 21.6 
L 224.42 21.6 
L 224.68 21.6 
L 224.93 21.6 
L 225.18 21.6 
L 225.43 21.6 
L 225.68 21.6 
L 225.94 21.6 
L 226.55 21.6 
L 226.27 396 
L 226.77 396 
L 227.56 21.6 
L 227.7 21.6 
L 227.95 21.6 
L 228.20 21.6 
L 228.46 21.6 
L 228.71 21.6 
L 228.96 21.6 
L 229.21 21.6 
L 229.46 21.6 
L 229.72 21.6 
L 229.97 21.6 
L 230.22 21.6 
L 230.47 21.6 
L 230.72 21.6 
L 230.98 21.6 
L 231.23 21.6 
L 231.48 21.6 
L 231.73 21.6 
L 231.98 21.6 
L 232.24 21.6 
L 232.49 21.6 
L 232.74 21.6 
L 232.99 21.6 
L 233.53 21.6 
L 233.24 394.56 
L 233.74 394.56 
L 234.54 21.6 
L 234.76 21.6 
L 235.01 21.6 
L 235.26 21.6 
L 235.51 21.6 
L 235.76 21.6 
L 236.02 21.6 
L 236.27 21.6 
L 236.52 21.6 
L 236.77 21.6 
L 237.02 21.6 
L 237.28 21.6 
L 237.53 21.6 
L 237.78 21.6 
L 238.03 21.6 
L 238.28 21.6 
L 238.54 21.6 
L 238.79 21.6 
L 239.04 21.6 
L 239.29 21.6 
L 239.54 21.6 
L 239.80 21.6 
L 240.50 21.6 
L 240.22 396 
L 240.72 396 
L 241.51 21.6 
L 241.56 21.6 
L 241.81 21.6 
L 242.06 21.6 
L 242.32 21.6 
L 242.57 21.6 
L 242.82 21.6 
L 243.07 21.6 
L 243.32 21.6 
L 243.58 21.6 
L 243.83 21.6 
L 244.08 21.6 
L 244.33 21.6 
L 244.58 21.6 
L 244.84 21.6 
L 245.09 21.6 
L 245.34 21.6 
L 245.59 21.6 
L 245.84 21.6 
L 246.10 21.6 
L 246.35 21.6 
L 246.6 21.6 
L 246.85 21.6 
L 247.48 21.6 
L 247.19 390.6 
L 247.69 390.6 
L 248.49 21.6 
L 248.62 21.6 
L 248.87 21.6 
L 249.12 21.6 
L 249.37 21.6 
L 249.62 21.6 
L 249.88 21.6 
L 250.13 21.6 
L 250.38 21.6 
L 250.63 21.6 
L 250.88 21.6 
L 251.14 21.6 
L 251.39 21.6 
L 251.64 21.6 
L 251.89 21.6 
L 252.14 21.6 
L 252.40 21.6 
L 252.65 21.6 
L 252.9 21.6 
L 253.15 21.6 
L 253.40 21.6 
L 253.66 21.6 
L 253.91 21.6 
L 254.45 21.6 
L 254.17 421.2 
L 254.67 421.2 
L 255.46 21.6 
L 255.67 21.6 
L 255.92 21.6 
L 256.18 21.6 
L 256.43 21.6 
L 256.68 21.6 
L 256.93 21.6 
L 257.18 21.6 
L 257.44 21.6 
L 257.69 21.6 
L 257.94 21.6 
L 258.19 21.6 
L 258.44 21.6 
L 258.70 21.6 
L 258.95 21.6 
L 259.2 21.6 
L 259.45 21.6 
L 259.70 21.6 
L 259.96 21.6 
L 260.21 21.6 
L 260.46 21.6 
L 260.71 21.6 
L 261.43 21.6 
L 261.14 417.24 
L 261.64 417.24 
L 262.44 21.6 
L 262.48 21.6 
L 262.73 21.6 
L 262.98 21.6 
L 263.23 21.6 
L 263.48 21.6 
L 263.74 21.6 
L 263.99 21.6 
L 264.24 21.6 
L 264.49 21.6 
L 264.74 21.6 
L 265.00 21.6 
L 265.25 21.6 
L 265.5 21.6 
L 265.75 21.6 
L 266.00 21.6 
L 266.26 21.6 
L 266.51 21.6 
L 266.76 21.6 
L 267.01 21.6 
L 267.26 21.6 
L 267.52 21.6 
L 267.77 21.6 
L 268.40 21.6 
L 268.12 395.28 
L 268.62 395.28 
L 269.41 21.6 
L 269.53 21.6 
L 269.78 21.6 
L 270.04 21.6 
L 270.29 21.6 
L 270.54 21.6 
L 270.79 21.6 
L 271.04 21.6 
L 271.30 21.6 
L 271.55 21.6 
L 271.8 21.6 
L 272.05 21.6 
L 272.30 21.6 
L 272.56 21.6 
L 272.81 21.6 
L 273.06 21.6 
L 273.31 21.6 
L 273.56 21.6 
L 273.82 21.6 
L 274.07 21.6 
L 274.32 21.6 
L 274.57 21.6 
L 274.82 21.6 
L 275.38 21.6 
L 275.09 401.4 
L 275.59 401.4 
L 276.39 21.6 
L 276.59 21.6 
L 276.84 21.6 
L 277.09 21.6 
L 277.34 21.6 
L 277.60 21.6 
L 277.85 21.6 
L 278.1 21.6 
L 278.35 21.6 
L 278.60 21.6 
L 278.86 21.6 
L 279.11 21.6 
L 279.36 21.6 
L 279.61 21.6 
L 279.86 21.6 
L 280.12 21.6 
L 280.37 21.6 
L 280.62 21.6 
L 280.87 21.6 
L 281.12 21.6 
L 281.38 21.6 
L 281.63 21.6 
L 282.35 21.6 
L 282.07 398.7 
L 282.57 398.7 
L 283.36 21.6 
L 283.39 21.6 
L 283.64 21.6 
L 283.90 21.6 
L 284.15 21.6 
L 284.4 21.6 
L 284.65 21.6 
L 284.90 21.6 
L 285.16 21.6 
L 285.41 21.6 
L 285.66 21.6 
L 285.91 21.6 
L 286.16 21.6 
L 286.42 21.6 
L 286.67 21.6 
L 286.92 21.6 
L 287.17 21.6 
L 287.42 21.6 
L 287.68 21.6 
L 287.93 21.6 
L 288.18 21.6 
L 288.43 21.6 
L 288.68 21.6 
L 289.33 21.6 
L 289.04 422.1 
L 289.54 422.1 
L 290.34 21.6 
L 290.45 21.6 
L 290.7 21.6 
L 290.95 21.6 
L 291.20 21.6 
L 291.46 21.6 
L 291.71 21.6 
L 291.96 21.6 
L 292.21 21.6 
L 292.46 21.6 
L 292.72 21.6 
L 292.97 21.6 
L 293.22 21.6 
L 293.47 21.6 
L 293.72 21.6 
L 293.98 21.6 
L 294.23 21.6 
L 294.48 21.6 
L 294.73 21.6 
L 294.98 21.6 
L 295.24 21.6 
L 295.49 21.6 
L 295.74 21.6 
L 296.30 21.6 
L 296.02 421.56 
L 296.52 421.56 
L 297.31 21.6 
L 297.50 21.6 
L 297.76 21.6 
L 298.01 21.6 
L 298.26 21.6 
L 298.51 21.6 
L 298.76 21.6 
L 299.02 21.6 
L 299.27 21.6 
L 299.52 21.6 
L 299.77 21.6 
L 300.02 21.6 
L 300.28 21.6 
L 300.53 21.6 
L 300.78 21.6 
L 301.03 21.6 
L 301.28 21.6 
L 301.54 21.6 
L 301.79 21.6 
L 302.04 21.6 
L 302.29 21.6 
L 302.54 21.6 
L 303.28 21.6 
L 302.99 395.64 
L 303.49 395.64 
L 304.29 21.6 
L 304.31 21.6 
L 304.56 21.6 
L 304.81 21.6 
L 305.06 21.6 
L 305.32 21.6 
L 305.57 21.6 
L 305.82 21.6 
L 306.07 21.6 
L 306.32 21.6 
L 306.58 21.6 
L 306.83 21.6 
L 307.08 21.6 
L 307.33 21.6 
L 307.58 21.6 
L 307.84 21.6 
L 308.09 21.6 
L 308.34 21.6 
L 308.59 21.6 
L 308.84 21.6 
L 309.10 21.6 
L 309.35 21.6 
L 309.6 21.6 
L 310.25 21.6 
L 309.97 396 
L 310.47 396 
L 311.26 21.6 
L 311.36 21.6 
L 311.62 21.6 
L 311.87 21.6 
L 312.12 21.6 
L 312.37 21.6 
L 312.62 21.6 
L 312.88 21.6 
L 313.13 21.6 
L 313.38 21.6 
L 313.63 21.6 
L 313.88 21.6 
L 314.14 21.6 
L 314.39 21.6 
L 314.64 21.6 
L 314.89 21.6 
L 315.14 21.6 
L 315.40 21.6 
L 315.65 21.6 
L 315.9 21.6 
L 316.15 21.6 
L 316.40 21.6 
L 316.66 21.6 
L 317.23 21.6 
L 316.94 396 
L 317.44 396 
L 318.24 21.6 
L 318.42 21.6 
L 318.67 21.6 
L 318.92 21.6 
L 319.18 21.6 
L 319.43 21.6 
L 319.68 21.6 
L 319.93 21.6 
L 320.18 21.6 
L 320.44 21.6 
L 320.69 21.6 
L 320.94 21.6 
L 321.19 21.6 
L 321.44 21.6 
L 321.70 21.6 
L 321.95 21.6 
L 322.2 21.6 
L 322.45 21.6 
L 322.70 21.6 
L 322.96 21.6 
L 323.21 21.6 
L 323.46 21.6 
L 324.20 21.6 
L 323.92 391.14 
L 324.42 391.14 
L 325.21 21.6 
L 325.22 21.6 
L 325.48 21.6 
L 325.73 21.6 
L 325.98 21.6 
L 326.23 21.6 
L 326.48 21.6 
L 326.74 21.6 
L 326.99 21.6 
L 327.24 21.6 
L 327.49 21.6 
L 327.74 21.6 
L 328.00 21.6 
L 328.25 21.6 
L 328.5 21.6 
L 328.75 21.6 
L 329.00 21.6 
L 329.26 21.6 
L 329.51 21.6 
L 329.76 21.6 
L 330.01 21.6 
L 330.26 21.6 
L 330.52 21.6 
L 331.18 21.6 
L 330.89 390.24 
L 331.39 390.24 
L 332.19 21.6 
L 332.28 21.6 
L 332.53 21.6 
L 332.78 21.6 
L 333.04 21.6 
L 333.29 21.6 
L 333.54 21.6 
L 333.79 21.6 
L 334.04 21.6 
L 334.30 21.6 
L 334.55 21.6 
L 334.8 21.6 
L 335.05 21.6 
L 335.30 21.6 
L 335.56 21.6 
L 335.81 21.6 
L 336.06 21.6 
L 336.31 21.6 
L 336.56 21.6 
L 336.82 21.6 
L 337.07 21.6 
L 337.32 21.6 
L 337.57 21.6 
L 338.15 21.6 
L 337.87 392.4 
L 338.37 392.4 
L 339.16 21.6 
L 339.34 21.6 
L 339.59 21.6 
L 339.84 21.6 
L 340.09 21.6 
L 340.34 21.6 
L 340.60 21.6 
L 340.85 21.6 
L 341.1 21.6 
L 341.35 21.6 
L 341.60 21.6 
L 341.86 21.6 
L 342.11 21.6 
L 342.36 21.6 
L 342.61 21.6 
L 342.86 21.6 
L 343.12 21.6 
L 343.37 21.6 
L 343.62 21.6 
L 343.87 21.6 
L 344.12 21.6 
L 344.38 21.6 
L 345.13 21.6 
L 344.84 396.9 
L 345.34 396.9 
L 346.14 21.6 
L 346.14 21.6 
L 346.39 21.6 
L 346.64 21.6 
L 346.90 21.6 
L 347.15 21.6 
L 347.4 21.6 
L 347.65 21.6 
L 347.90 21.6 
L 348.16 21.6 
L 348.41 21.6 
L 348.66 21.6 
L 348.91 21.6 
L 349.16 21.6 
L 349.42 21.6 
L 349.67 21.6 
L 349.92 21.6 
L 350.17 21.6 
L 350.42 21.6 
L 350.68 21.6 
L 350.93 21.6 
L 351.18 21.6 
L 351.43 21.6 
L 352.10 21.6 
L 351.82 420.84 
L 352.32 420.84 
L 353.11 21.6 
L 353.20 21.6 
L 353.45 21.6 
L 353.7 21.6 
L 353.95 21.6 
L 354.20 21.6 
L 354.46 21.6 
L 354.71 21.6 
L 354.96 21.6 
L 355.21 21.6 
L 355.46 21.6 
L 355.72 21.6 
L 355.97 21.6 
L 356.22 21.6 
L 356.47 21.6 
L 356.72 21.6 
L 356.98 21.6 
L 357.23 21.6 
L 357.48 21.6 
L 357.73 21.6 
L 357.98 21.6 
L 358.24 21.6 
L 358.49 21.6 
L 359.08 21.6 
L 358.79 391.5 
L 359.29 391.5 
L 360.09 21.6 
L 360.25 21.6 
L 360.50 21.6 
L 360.76 21.6 
L 361.01 21.6 
L 361.26 21.6 
L 361.51 21.6 
L 361.76 21.6 
L 362.02 21.6 
L 362.27 21.6 
L 362.52 21.6 
L 362.77 21.6 
L 363.02 21.6 
L 363.28 21.6 
L 363.53 21.6 
L 363.78 21.6 
L 364.03 21.6 
L 364.28 21.6 
L 364.54 21.6 
L 364.79 21.6 
L 365.04 21.6 
L 365.29 21.6 
L 366.05 21.6 
L 365.77 392.4 
L 366.27 392.4 
L 367.06 21.6 
L 367.31 21.6 
L 367.56 21.6 
L 367.81 21.6 
L 368.06 21.6 
L 368.32 21.6 
L 368.57 21.6 
L 368.82 21.6 
L 369.07 21.6 
L 369.32 21.6 
L 369.58 21.6 
L 369.83 21.6 
L 370.08 21.6 
L 370.33 21.6 
L 370.58 21.6 
L 370.84 21.6 
L 371.09 21.6 
L 371.34 21.6 
L 371.59 21.6 
L 371.84 21.6 
L 372.10 21.6 
L 372.35 21.6 
L 373.03 21.6 
L 372.74 399.6 
L 373.24 399.6 
L 374.04 21.6 
L 374.11 21.6 
L 374.36 21.6 
L 374.62 21.6 
L 374.87 21.6 
L 375.12 21.6 
L 375.37 21.6 
L 375.62 21.6 
L 375.88 21.6 
L 376.13 21.6 
L 376.38 21.6 
L 376.63 21.6 
L 376.88 21.6 
L 377.14 21.6 
L 377.39 21.6 
L 377.64 21.6 
L 377.89 21.6 
L 378.14 21.6 
L 378.40 21.6 
L 378.65 21.6 
L 378.9 21.6 
L 379.15 21.6 
L 379.40 21.6 
L 380.00 21.6 
L 379.72 426.24 
L 380.22 426.24 
L 381.01 21.6 
L 381.17 21.6 
L 381.42 21.6 
L 381.67 21.6 
L 381.92 21.6 
L 382.18 21.6 
L 382.43 21.6 
L 382.68 21.6 
L 382.93 21.6 
L 383.18 21.6 
L 383.44 21.6 
L 383.69 21.6 
L 383.94 21.6 
L 384.19 21.6 
L 384.44 21.6 
L 384.70 21.6 
L 384.95 21.6 
L 385.2 21.6 
L 385.45 21.6 
L 385.70 21.6 
L 385.96 21.6 
L 386.21 21.6 
L 386.98 21.6 
L 386.69 403.74 
L 387.19 403.74 
L 387.99 21.6 
L 388.22 21.6 
L 388.48 21.6 
L 388.73 21.6 
L 388.98 21.6 
L 389.23 21.6 
L 389.48 21.6 
L 389.74 21.6 
L 389.99 21.6 
L 390.24 21.6 
L 390.49 21.6 
L 390.74 21.6 
L 391.00 21.6 
L 391.25 21.6 
L 391.5 21.6 
L 391.75 21.6 
L 392.00 21.6 
L 392.26 21.6 
L 392.51 21.6 
L 392.76 21.6 
L 393.01 21.6 
L 393.26 21.6 
L 393.95 21.6 
L 393.67 512.64 
L 394.17 512.64 
L 394.96 21.6 
L 395.03 21.6 
L 395.28 21.6 
L 395.53 21.6 
L 395.78 21.6 
L 396.04 21.6 
L 396.29 21.6 
L 396.54 21.6 
L 396.79 21.6 
L 397.04 21.6 
L 397.30 21.6 
L 397.55 21.6 
L 397.8 21.6 
L 398.05 21.6 
L 398.30 21.6 
L 398.56 21.6 
L 398.81 21.6 
L 399.06 21.6 
L 399.31 21.6 
L 399.56 21.6 
L 399.82 21.6 
L 400.07 21.6 
L 400.32 21.6 
L 400.93 21.6 
L 400.64 428.4 
L 401.14 428.4 
L 401.94 21.6 
L 402.08 21.6 
L 402.34 21.6 
L 402.59 21.6 
L 402.84 21.6 
L 403.09 21.6 
L 403.34 21.6 
L 403.60 21.6 
L 403.85 21.6 
L 404.1 21.6 
L 404.35 21.6 
L 404.60 21.6 
L 404.86 21.6 
L 405.11 21.6 
L 405.36 21.6 
L 405.61 21.6 
L 405.86 21.6 
L 406.12 21.6 
L 406.37 21.6 
L 406.62 21.6 
L 406.87 21.6 
L 407.12 21.6 
L 407.90 21.6 
L 407.62 402.3 
L 408.12 402.3 
L 408.91 21.6 
L 409.14 21.6 
L 409.39 21.6 
L 409.64 21.6 
L 409.90 21.6 
L 410.15 21.6 
L 410.4 21.6 
L 410.65 21.6 
L 410.90 21.6 
L 411.16 21.6 
L 411.41 21.6 
L 411.66 21.6 
L 411.91 21.6 
L 412.16 21.6 
L 412.42 21.6 
L 412.67 21.6 
L 412.92 21.6 
L 413.17 21.6 
L 413.42 21.6 
L 413.68 21.6 
L 413.93 21.6 
L 414.18 21.6 
L 414.88 21.6 
L 414.59 405.36 
L 415.09 405.36 
L 415.89 21.6 
L 415.94 21.6 
L 416.20 21.6 
L 416.45 21.6 
L 416.7 21.6 
L 416.95 21.6 
L 417.20 21.6 
L 417.46 21.6 
L 417.71 21.6 
L 417.96 21.6 
L 418.21 21.6 
L 418.46 21.6 
L 418.72 21.6 
L 418.97 21.6 
L 419.22 21.6 
L 419.47 21.6 
L 419.72 21.6 
L 419.98 21.6 
L 420.23 21.6 
L 420.48 21.6 
L 420.73 21.6 
L 420.98 21.6 
L 421.24 21.6 
L 421.85 21.6 
L 421.57 394.74 
L 422.07 394.74 
L 422.86 21.6 
L 423 21.6 
L 423.25 21.6 
L 423.50 21.6 
L 423.76 21.6 
L 424.01 21.6 
L 424.26 21.6 
L 424.51 21.6 
L 424.76 21.6 
L 425.02 21.6 
L 425.27 21.6 
L 425.52 21.6 
L 425.77 21.6 
L 426.02 21.6 
L 426.28 21.6 
L 426.53 21.6 
L 426.78 21.6 
L 427.03 21.6 
L 427.28 21.6 
L 427.54 21.6 
L 427.79 21.6 
L 428.04 21.6 
L 428.29 21.6 
L 428.83 21.6 
L 428.54 423.9 
L 429.04 423.9 
L 429.84 21.6 
L 430.06 21.6 
L 430.31 21.6 
L 430.56 21.6 
L 430.81 21.6 
L 431.06 21.6 
L 431.32 21.6 
L 431.57 21.6 
L 431.82 21.6 
L 432.07 21.6 
L 432.32 21.6 
L 432.58 21.6 
L 432.83 21.6 
L 433.08 21.6 
L 433.33 21.6 
L 433.58 21.6 
L 433.84 21.6 
L 434.09 21.6 
L 434.34 21.6 
L 434.59 21.6 
L 434.84 21.6 
L 435.10 21.6 
L 435.80 21.6 
L 435.52 427.5 
L 436.02 427.5 
L 436.81 21.6 
L 436.86 21.6 
L 437.11 21.6 
L 437.36 21.6 
L 437.62 21.6 
L 437.87 21.6 
L 438.12 21.6 
L 438.37 21.6 
L 438.62 21.6 
L 438.88 21.6 
L 439.13 21.6 
L 439.38 21.6 
L 439.63 21.6 
L 439.88 21.6 
L 440.14 21.6 
L 440.39 21.6 
L 440.64 21.6 
L 440.89 21.6 
L 441.14 21.6 
L 441.40 21.6 
L 441.65 21.6 
L 441.9 21.6 
L 442.15 21.6 
L 442.78 21.6 
L 442.49 399.6 
L 442.99 399.6 
L 443.79 21.6 
L 443.92 21.6 
L 444.17 21.6 
L 444.42 21.6 
L 444.67 21.6 
L 444.92 21.6 
L 445.18 21.6 
L 445.43 21.6 
L 445.68 21.6 
L 445.93 21.6 
L 446.18 21.6 
L 446.44 21.6 
L 446.69 21.6 
L 446.94 21.6 
L 447.19 21.6 
L 447.44 21.6 
L 447.70 21.6 
L 447.95 21.6 
L 448.2 21.6 
L 448.45 21.6 
L 448.70 21.6 
L 448.96 21.6 
L 449.21 21.6 
L 449.75 21.6 
L 449.47 396.54 
L 449.97 396.54 
L 450.76 21.6 
L 450.97 21.6 
L 451.22 21.6 
L 451.48 21.6 
L 451.73 21.6 
L 451.98 21.6 
L 452.23 21.6 
L 452.48 21.6 
L 452.74 21.6 
L 452.99 21.6 
L 453.24 21.6 
L 453.49 21.6 
L 453.74 21.6 
L 454.00 21.6 
L 454.25 21.6 
L 454.5 21.6 
L 454.75 21.6 
L 455.00 21.6 
L 455.26 21.6 
L 455.51 21.6 
L 455.76 21.6 
L 456.01 21.6 
L 456.73 21.6 
L 456.44 428.04 
L 456.94 428.04 
L 457.74 21.6 
L 457.78 21.6 
L 458.03 21.6 
L 458.28 21.6 
L 458.53 21.6 
L 458.78 21.6 
L 459.04 21.6 
L 459.29 21.6 
L 459.54 21.6 
L 459.79 21.6 
L 460.04 21.6 
L 460.30 21.6 
L 460.55 21.6 
L 460.8 21.6 
L 461.05 21.6 
L 461.30 21.6 
L 461.56 21.6 
L 461.81 21.6 
L 462.06 21.6 
L 462.31 21.6 
L 462.56 21.6 
L 462.82 21.6 
L 463.07 21.6 
L 463.70 21.6 
L 463.42 396 
L 463.92 396 
L 464.71 21.6 
L 464.83 21.6 
L 465.08 21.6 
L 465.34 21.6 
L 465.59 21.6 
L 465.84 21.6 
L 466.09 21.6 
L 466.34 21.6 
L 466.60 21.6 
L 466.85 21.6 
L 467.1 21.6 
L 467.35 21.6 
L 467.60 21.6 
L 467.86 21.6 
L 468.11 21.6 
L 468.36 21.6 
L 468.61 21.6 
L 468.86 21.6 
L 469.12 21.6 
L 469.37 21.6 
L 469.62 21.6 
L 469.87 21.6 
L 470.12 21.6 
L 470.68 21.6 
L 470.39 398.34 
L 470.89 398.34 
L 471.69 21.6 
L 471.89 21.6 
L 472.14 21.6 
L 472.39 21.6 
L 472.64 21.6 
L 472.90 21.6 
L 473.15 21.6 
L 473.4 21.6 
L 473.65 21.6 
L 473.90 21.6 
L 474.16 21.6 
L 474.41 21.6 
L 474.66 21.6 
L 474.91 21.6 
L 475.16 21.6 
L 475.42 21.6 
L 475.67 21.6 
L 475.92 21.6 
L 476.17 21.6 
L 476.42 21.6 
L 476.68 21.6 
L 476.93 21.6 
L 477.65 21.6 
L 477.37 396 
L 477.87 396 
L 478.66 21.6 
L 478.69 21.6 
L 478.94 21.6 
L 479.20 21.6 
L 479.45 21.6 
L 479.7 21.6 
L 479.95 21.6 
L 480.20 21.6 
L 480.46 21.6 
L 480.71 21.6 
L 480.96 21.6 
L 481.21 21.6 
L 481.46 21.6 
L 481.72 21.6 
L 481.97 21.6 
L 482.22 21.6 
L 482.47 21.6 
L 482.72 21.6 
L 482.98 21.6 
L 483.23 21.6 
L 483.48 21.6 
L 483.73 21.6 
L 483.98 21.6 
L 484.63 21.6 
L 484.34 399.6 
L 484.84 399.6 
L 485.64 21.6 
L 485.75 21.6 
L 486 21.6 
L 486.25 21.6 
L 486.50 21.6 
L 486.76 21.6 
L 487.01 21.6 
L 487.26 21.6 
L 487.51 21.6 
L 487.76 21.6 
L 488.02 21.6 
L 488.27 21.6 
L 488.52 21.6 
L 488.77 21.6 
L 489.02 21.6 
L 489.28 21.6 
L 489.53 21.6 
L 489.78 21.6 
L 490.03 21.6 
L 490.28 21.6 
L 490.54 21.6 
L 490.79 21.6 
L 491.04 21.6 
L 491.60 21.6 
L 491.32 428.76 
L 491.82 428.76 
L 492.61 21.6 
L 492.80 21.6 
L 493.06 21.6 
L 493.31 21.6 
L 493.56 21.6 
L 493.81 21.6 
L 494.06 21.6 
L 494.32 21.6 
L 494.57 21.6 
L 494.82 21.6 
L 495.07 21.6 
L 495.32 21.6 
L 495.58 21.6 
L 495.83 21.6 
L 496.08 21.6 
L 496.33 21.6 
L 496.58 21.6 
L 496.84 21.6 
L 497.09 21.6 
L 497.34 21.6 
L 497.59 21.6 
L 497.84 21.6 
L 498.58 21.6 
L 498.29 403.74 
L 498.79 403.74 
L 499.59 21.6 
L 499.61 21.6 
L 499.86 21.6 
L 500.11 21.6 
L 500.36 21.6 
L 500.62 21.6 
L 500.87 21.6 
L 501.12 21.6 
L 501.37 21.6 
L 501.62 21.6 
L 501.88 21.6 
L 502.13 21.6 
L 502.38 21.6 
L 502.63 21.6 
L 502.88 21.6 
L 503.14 21.6 
L 503.39 21.6 
L 503.64 21.6 
L 503.89 21.6 
L 504.14 21.6 
L 504.40 21.6 
L 504.65 21.6 
L 504.9 21.6 
L 505.55 21.6 
L 505.27 402.66 
L 505.77 402.66 
L 506.56 21.6 
L 506.66 21.6 
L 506.92 21.6 
L 507.17 21.6 
L 507.42 21.6 
L 507.67 21.6 
L 507.92 21.6 
L 508.18 21.6 
L 508.43 21.6 
L 508.68 21.6 
L 508.93 21.6 
L 509.18 21.6 
L 509.44 21.6 
L 509.69 21.6 
L 509.94 21.6 
L 510.19 21.6 
L 510.44 21.6 
L 510.70 21.6 
L 510.95 21.6 
L 511.2 21.6 
L 511.45 21.6 
L 511.70 21.6 
L 511.96 21.6 
L 512.53 21.6 
L 512.24 399.24 
L 512.74 399.24 
L 513.54 21.6 
L 513.72 21.6 
L 513.97 21.6 
L 514.22 21.6 
L 514.48 21.6 
L 514.73 21.6 
L 514.98 21.6 
L 515.23 21.6 
L 515.48 21.6 
L 515.74 21.6 
L 515.99 21.6 
L 516.24 21.6 
L 516.49 21.6 
L 516.74 21.6 
L 517.00 21.6 
L 517.25 21.6 
L 517.5 21.6 
L 517.75 21.6 
L 518.00 21.6 
L 518.26 21.6 
L 518.51 21.6 
L 518.76 21.6 
L 519.50 21.6 
L 519.22 406.8 
L 519.72 406.8 
L 520.51 21.6 
L 520.52 21.6 
L 520.78 21.6 
L 521.03 21.6 
L 521.28 21.6 
L 521.53 21.6 
L 521.78 21.6 
L 522.04 21.6 
L 522.29 21.6 
L 522.54 21.6 
L 522.79 21.6 
L 523.04 21.6 
L 523.30 21.6 
L 523.55 21.6 
L 523.8 21.6 
L 524.05 21.6 
L 524.30 21.6 
L 524.56 21.6 
L 524.81 21.6 
L 525.06 21.6 
L 525.31 21.6 
L 525.56 21.6 
L 525.82 21.6 
L 526.48 21.6 
L 526.19 438.3 
L 526.69 438.3 
L 527.49 21.6 
L 527.58 21.6 
L 527.83 21.6 
L 528.08 21.6 
L 528.34 21.6 
L 528.59 21.6 
L 528.84 21.6 
L 529.09 21.6 
L 529.34 21.6 
L 529.60 21.6 
L 529.85 21.6 
L 530.1 21.6 
L 530.35 21.6 
L 530.60 21.6 
L 530.86 21.6 
L 531.11 21.6 
L 531.36 21.6 
L 531.61 21.6 
L 531.86 21.6 
L 532.12 21.6 
L 532.37 21.6 
L 532.62 21.6 
L 532.87 21.6 
L 533.45 21.6 
L 533.17 401.76 
L 533.67 401.76 
L 534.46 21.6 
L 534.64 21.6 
L 534.89 21.6 
L 535.14 21.6 
L 535.39 21.6 
L 535.64 21.6 
L 535.90 21.6 
L 536.15 21.6 
L 536.4 21.6 
L 536.65 21.6 
L 536.90 21.6 
L 537.16 21.6 
L 537.41 21.6 
L 537.66 21.6 
L 537.91 21.6 
L 538.16 21.6 
L 538.42 21.6 
L 538.67 21.6 
L 538.92 21.6 
L 539.17 21.6 
L 539.42 21.6 
L 539.68 21.6 
L 540.43 21.6 
L 540.14 397.8 
L 540.64 397.8 
L 541.44 21.6 
L 541.44 21.6 
L 541.69 21.6 
L 541.94 21.6 
L 542.20 21.6 
L 542.45 21.6 
L 542.7 21.6 
L 542.95 21.6 
L 543.20 21.6 
L 543.46 21.6 
L 543.71 21.6 
L 543.96 21.6 
L 544.21 21.6 
L 544.46 21.6 
L 544.72 21.6 
L 544.97 21.6 
L 545.22 21.6 
L 545.47 21.6 
L 545.72 21.6 
L 545.98 21.6 
L 546.23 21.6 
L 546.48 21.6 
L 546.73 21.6 
L 547.40 21.6 
L 547.12 394.74 
L 547.62 394.74 
L 548.41 21.6 
L 548.50 21.6 
L 548.75 21.6 
L 549 21.6 
L 549.25 21.6 
L 549.50 21.6 
L 549.76 21.6 
L 550.01 21.6 
L 550.26 21.6 
L 550.51 21.6 
L 550.76 21.6 
L 551.02 21.6 
L 551.27 21.6 
L 551.52 21.6 
L 551.77 21.6 
L 552.02 21.6 
L 552.28 21.6 
L 552.53 21.6 
L 552.78 21.6 
L 553.03 21.6 
L 553.28 21.6 
L 553.54 21.6 
L 553.79 21.6 
L 554.38 21.6 
L 554.09 422.64 
L 554.59 422.64 
L 555.39 21.6 
L 555.55 21.6 
L 555.80 21.6 
L 556.06 21.6 
L 556.31 21.6 
L 556.56 21.6 
L 556.81 21.6 
L 557.06 21.6 
L 557.32 21.6 
L 557.57 21.6 
L 557.82 21.6 
L 558.07 21.6 
L 558.32 21.6 
L 558.58 21.6 
L 558.83 21.6 
L 559.08 21.6 
L 559.33 21.6 
L 559.58 21.6 
L 559.84 21.6 
L 560.09 21.6 
L 560.34 21.6 
L 560.59 21.6 
L 561.35 21.6 
L 561.07 399.24 
L 561.57 399.24 
L 562.36 21.6 
L 562.61 21.6 
L 562.86 21.6 
L 563.11 21.6 
L 563.36 21.6 
L 563.62 21.6 
L 563.87 21.6 
L 564.12 21.6 
L 564.37 21.6 
L 564.62 21.6 
L 564.88 21.6 
L 565.13 21.6 
L 565.38 21.6 
L 565.63 21.6 
L 565.88 21.6 
L 566.14 21.6 
L 566.39 21.6 
L 566.64 21.6 
L 566.89 21.6 
L 567.14 21.6 
L 567.40 21.6 
L 567.65 21.6 
L 568.33 21.6 
L 568.04 403.74 
L 568.54 403.74 
L 569.34 21.6 
L 569.41 21.6 
L 569.66 21.6 
L 569.92 21.6 
L 570.17 21.6 
L 570.42 21.6 
L 570.67 21.6 
L 570.92 21.6 
L 571.18 21.6 
L 571.43 21.6 
L 571.68 21.6 
L 571.93 21.6 
L 572.18 21.6 
L 572.44 21.6 
L 572.69 21.6 
L 572.94 21.6 
L 573.19 21.6 
L 573.44 21.6 
L 573.70 21.6 
L 573.95 21.6 
L 574.2 21.6 
L 574.45 21.6 
L 574.70 21.6 
L 575.30 21.6 
L 575.02 393.3 
L 575.52 393.3 
L 576.31 21.6 
L 576.47 21.6 
L 576.72 21.6 
L 576.97 21.6 
L 577.22 21.6 
L 577.48 21.6 
L 577.73 21.6 
L 577.98 21.6 
L 578.23 21.6 
L 578.48 21.6 
L 578.74 21.6 
L 578.99 21.6 
L 579.24 21.6 
L 579.49 21.6 
L 579.74 21.6 
L 580.00 21.6 
L 580.25 21.6 
L 580.5 21.6 
L 580.75 21.6 
L 581.00 21.6 
L 581.26 21.6 
L 581.51 21.6 
L 582.28 21.6 
L 581.99 405.9 
L 582.49 405.9 
L 583.29 21.6 
L 583.52 21.6 
L 583.78 21.6 
L 584.03 21.6 
L 584.28 21.6 
L 584.53 21.6 
L 584.78 21.6 
L 585.04 21.6 
L 585.29 21.6 
L 585.54 21.6 
L 585.79 21.6 
L 586.04 21.6 
L 586.30 21.6 
L 586.55 21.6 
L 586.8 21.6 
L 587.05 21.6 
L 587.30 21.6 
L 587.56 21.6 
L 587.81 21.6 
L 588.06 21.6 
L 588.31 21.6 
L 588.56 21.6 
L 589.25 21.6 
L 588.97 422.64 
L 589.47 422.64 
L 590.26 21.6 
L 590.33 21.6 
L 590.58 21.6 
L 590.83 21.6 
L 591.08 21.6 
L 591.34 21.6 
L 591.59 21.6 
L 591.84 21.6 
L 592.09 21.6 
L 592.34 21.6 
L 592.60 21.6 
L 592.85 21.6 
L 593.1 21.6 
L 593.35 21.6 
L 593.60 21.6 
L 593.86 21.6 
L 594.11 21.6 
L 594.36 21.6 
L 594.61 21.6 
L 594.86 21.6 
L 595.12 21.6 
L 595.37 21.6 
L 595.62 21.6 
L 596.23 21.6 
L 595.94 403.56 
L 596.44 403.56 
L 597.24 21.6 
L 597.38 21.6 
L 597.64 21.6 
L 597.89 21.6 
L 598.14 21.6 
L 598.39 21.6 
L 598.64 21.6 
L 598.90 21.6 
L 599.15 21.6 
L 599.4 21.6 
L 599.65 21.6 
L 599.90 21.6 
L 600.16 21.6 
L 600.41 21.6 
L 600.66 21.6 
L 600.91 21.6 
L 601.16 21.6 
L 601.42 21.6 
L 601.67 21.6 
L 601.92 21.6 
L 602.17 21.6 
L 602.42 21.6 
L 602.68 21.6 
L 602.93 21.6 
L 603.18 21.6 
L 603.43 21.6 
" clip-path="url(#pb26753ab78)" style="fill: none; stroke: #ff0000; stroke-width: 1.5; stroke-linecap: square"/>
   </g>
   <g id="line2d_155">
    <path d="M 522.72 64.8 
L 523.01 74.41 
L 523.30 64.8 
L 523.58 74.73 
L 523.87 64.8 
L 524.16 74.63 
L 524.45 64.8 
L 524.74 72.82 
L 525.02 64.8 
L 525.31 73.11 
L 525.6 64.8 
L 525.89 73.85 
L 526.18 64.8 
L 526.46 74.00 
L 526.75 64.8 
L 527.04 72.34 
L 527.33 64.8 
L 527.62 73.26 
L 527.90 64.8 
L 528.19 72.29 
L 528.48 64.8 
" clip-path="url(#pb26753ab78)" style="fill: none; stroke: #ff0000; stroke-width: 1.5; stroke-linecap: square"/>
   </g>
   <g id="line2d_156">
    <path d="M 402.91 64.8 
L 403.2 81.81 
L 403.49 64.8 
L 403.78 81.60 
L 404.06 64.8 
L 404.35 83.32 
L 404.64 64.8 
" clip-path="url(#pb26753ab78)" style="fill: none; stroke: #ff0000; stroke-width: 1.5; stroke-linecap: square"/>
   </g>
   <g id="text_20" transform="translate(0.504 0.000)">
    <text style="font-size: 15px; font-family: 'DejaVu Sans', 'Bitstream Vera Sans', 'Computer Modern Sans Serif', 'Lucida Grande', 'Verdana', 'Geneva', 'Lucid', 'Arial', 'Helvetica', 'Avant Garde', sans-serif; text-anchor: middle" x="442.8" y="63.12" transform="rotate(-0 442.8 63.12)">MRO of 2026/04/14 with focus code = 62</text>
   </g>
   <g id="legend_1">
    <g id="patch_3">
     <path d="M 663.87 129.40 
L 769.2 129.40 
Q 771.6 129.40 771.6 127.00 
L 771.6 77.52 
Q 771.6 75.12 769.2 75.12 
L 663.87 75.12 
Q 661.47 75.12 661.47 77.52 
L 661.47 127.00 
Q 661.47 129.40 663.87 129.40 
z
" style="fill: #ffffff; opacity: 0.8; stroke: #cccccc; stroke-linejoin: miter"/>
    </g>
    <g id="line2d_157" transform="translate(-0.504 0)">
     <path d="M 665.91 84.48 
L 677.91 84.48 
L 689.91 84.48 
" style="fill: none; stroke: #0000ff; stroke-width: 1.5; stroke-linecap: square"/>
    </g>
    <g id="text_21">
     <text style="font-size: 12px; font-family: 'DejaVu Sans', 'Bitstream Vera Sans', 'Computer Modern Sans Serif', 'Lucida Grande', 'Verdana', 'Geneva', 'Lucid', 'Arial', 'Helvetica', 'Avant Garde', sans-serif; text-anchor: start" x="707.14" y="88.678125" transform="rotate(-0 699.51 88.68)">25.6 MHz</text>
    </g>
    <g id="line2d_158" transform="translate(-0.504 0)">
     <path d="M 665.91 101.37 
L 677.91 101.37 
L 689.91 101.37 
" style="fill: none; stroke: #008000; stroke-width: 1.5; stroke-linecap: square"/>
    </g>
    <g id="text_22">
     <text style="font-size: 12px; font-family: 'DejaVu Sans', 'Bitstream Vera Sans', 'Computer Modern Sans Serif', 'Lucida Grande', 'Verdana', 'Geneva', 'Lucid', 'Arial', 'Helvetica', 'Avant Garde', sans-serif; text-anchor: start" x="707.14" y="105.571875" transform="rotate(-0 699.51 105.57)">50.2 MHz</text>
    </g>
    <g id="line2d_159" transform="translate(-0.504 0)">
     <path d="M 665.91 118.27 
L 677.91 118.27 
L 689.91 118.27 
" style="fill: none; stroke: #ff0000; stroke-width: 1.5; stroke-linecap: square"/>
    </g>
    <g id="text_23">
     <text style="font-size: 12px; font-family: 'DejaVu Sans', 'Bitstream Vera Sans', 'Computer Modern Sans Serif', 'Lucida Grande', 'Verdana', 'Geneva', 'Lucid', 'Arial', 'Helvetica', 'Avant Garde', sans-serif; text-anchor: start" x="707.14" y="122.465625" transform="rotate(-0 699.51 122.47)">74.4 MHz</text>
    </g>
   </g>
  </g>
 </g>
 <defs>
  <clipPath id="pb26753ab78">
   <rect x="108" y="69.12" width="669.6" height="443.52"/>
  </clipPath>
 </defs>
</svg>

<svg class="l" width="1200" height="800" viewBox="0 0 1200 800"><rect x="150" y="96" width="931" height="1" fill="#000"/><rect x="150" y="712" width="931" height="1" fill="#000"/><rect x="150" y="96" width="1" height="617" fill="#000"/><rect x="1080" y="96" width="1" height="617" fill="#000"/><rect x="150" y="713" width="1" height="4.9" fill="#000"/><rect x="266" y="713" width="1" height="4.9" fill="#000"/><rect x="383" y="713" width="1" height="4.9" fill="#000"/><rect x="499" y="713" width="1" height="4.9" fill="#000"/><rect x="615" y="713" width="1" height="4.9" fill="#000"/><rect x="731" y="713" width="1" height="4.9" fill="#000"/><rect x="848" y="713" width="1" height="4.9" fill="#000"/><rect x="964" y="713" width="1" height="4.9" fill="#000"/><rect x="1080" y="713" width="1" height="4.9" fill="#000"/><rect x="145.1" y="712" width="4.9" height="1" fill="#000"/><rect x="145.1" y="624" width="4.9" height="1" fill="#000"/><rect x="145.1" y="536" width="4.9" height="1" fill="#000"/><rect x="145.1" y="448" width="4.9" height="1" fill="#000"/><rect x="145.1" y="360" width="4.9" height="1" fill="#000"/><rect x="145.1" y="272" width="4.9" height="1" fill="#000"/><rect x="145.1" y="184" width="4.9" height="1" fill="#000"/><rect x="145.1" y="96" width="4.9" height="1" fill="#000"/></svg>
</div></body></html>
